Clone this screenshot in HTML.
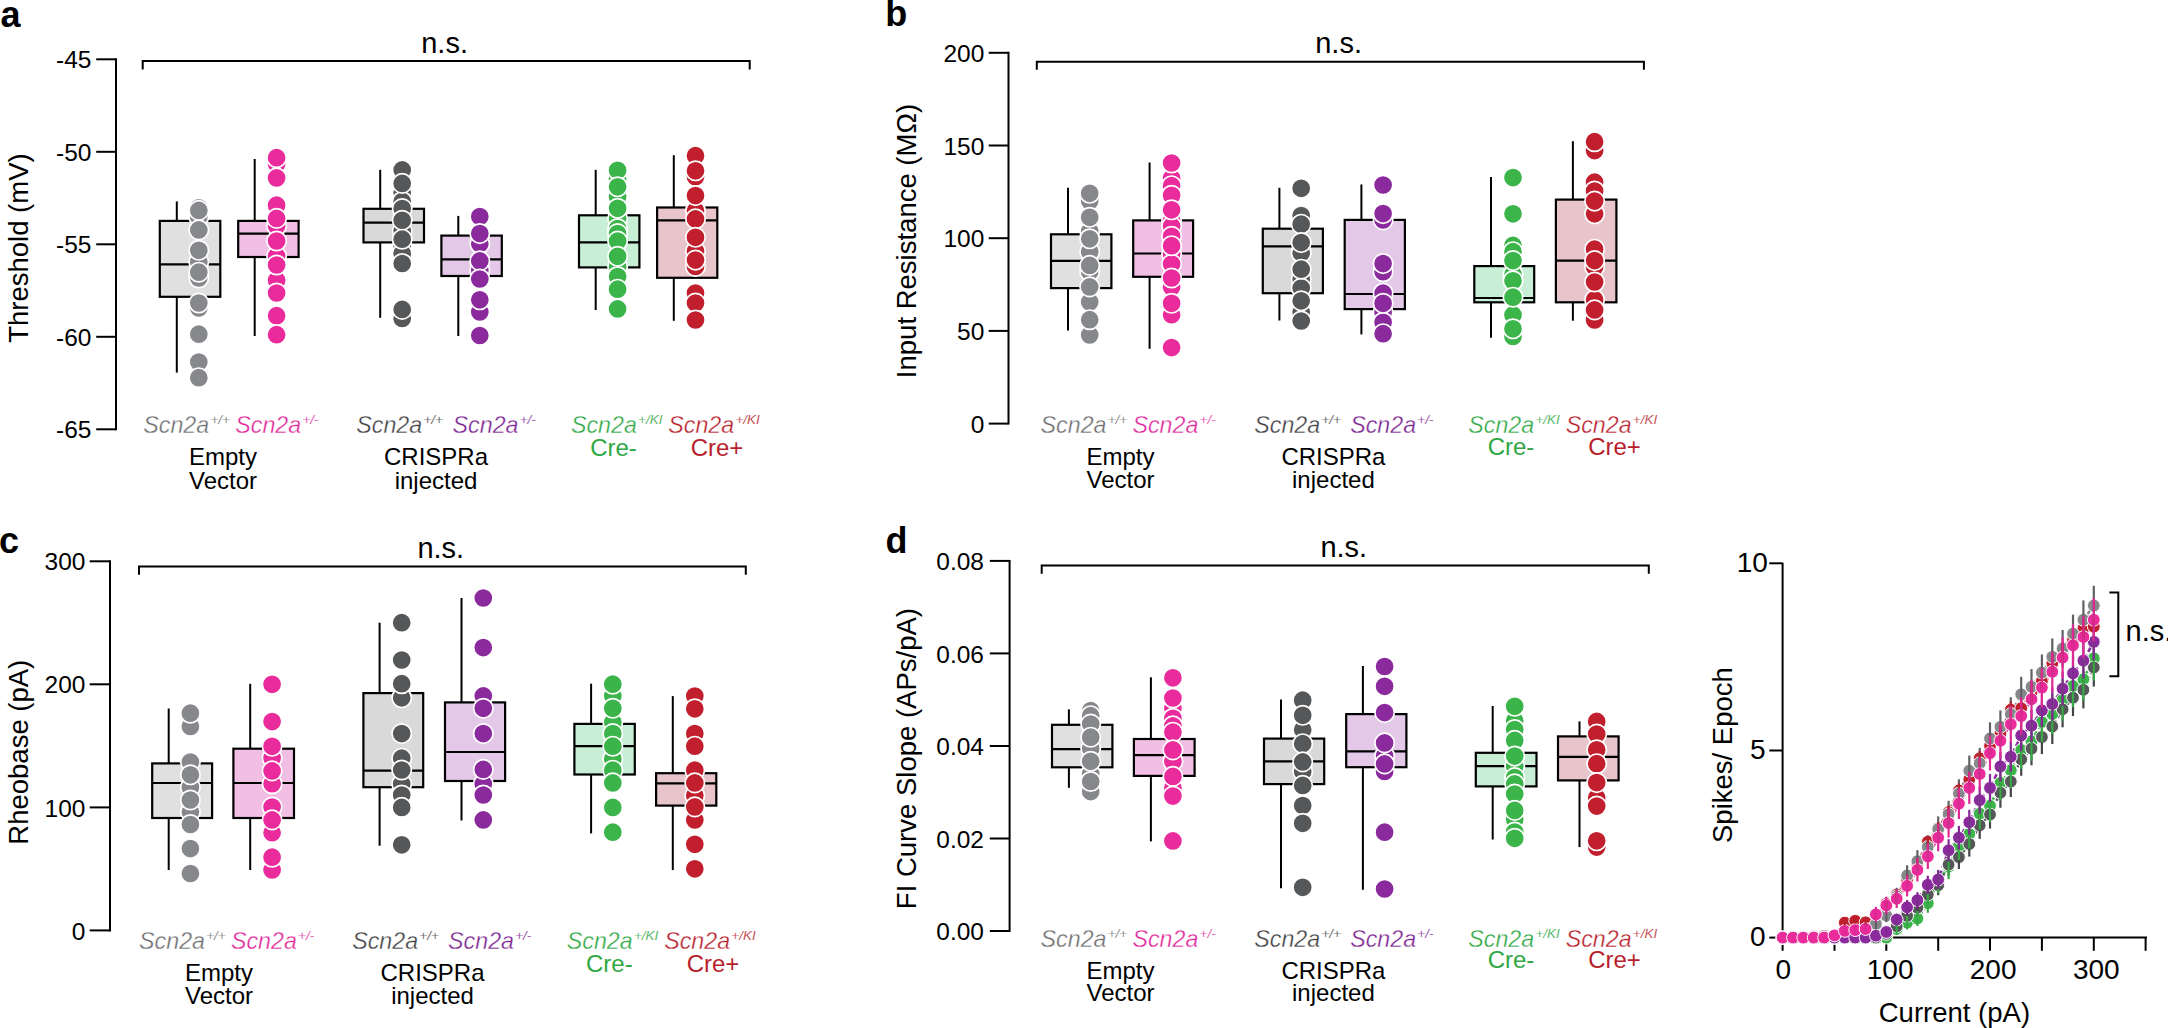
<!DOCTYPE html>
<html><head><meta charset="utf-8"><title>Figure</title>
<style>
html,body{margin:0;padding:0;background:#fff;}
svg{display:block;}
text{font-family:"Liberation Sans", Arial, Helvetica, sans-serif;}
</style></head>
<body>
<svg width="2168" height="1028" viewBox="0 0 2168 1028">
<rect width="2168" height="1028" fill="#fff"/>
<text x="0.6" y="26.7" font-size="36" text-anchor="start" font-weight="bold" font-style="normal" fill="#000" >a</text>
<line x1="116.0" y1="58.3" x2="116.0" y2="430.3" stroke="#000" stroke-width="2"/>
<line x1="96.2" y1="59.3" x2="116.0" y2="59.3" stroke="#000" stroke-width="2"/>
<text x="91.5" y="68.4" font-size="24.5" text-anchor="end" font-weight="normal" font-style="normal" fill="#000" >-45</text>
<line x1="96.2" y1="151.8" x2="116.0" y2="151.8" stroke="#000" stroke-width="2"/>
<text x="91.5" y="160.9" font-size="24.5" text-anchor="end" font-weight="normal" font-style="normal" fill="#000" >-50</text>
<line x1="96.2" y1="244.3" x2="116.0" y2="244.3" stroke="#000" stroke-width="2"/>
<text x="91.5" y="253.4" font-size="24.5" text-anchor="end" font-weight="normal" font-style="normal" fill="#000" >-55</text>
<line x1="96.2" y1="336.8" x2="116.0" y2="336.8" stroke="#000" stroke-width="2"/>
<text x="91.5" y="345.9" font-size="24.5" text-anchor="end" font-weight="normal" font-style="normal" fill="#000" >-60</text>
<line x1="96.2" y1="429.3" x2="116.0" y2="429.3" stroke="#000" stroke-width="2"/>
<text x="91.5" y="438.4" font-size="24.5" text-anchor="end" font-weight="normal" font-style="normal" fill="#000" >-65</text>
<text x="0" y="0" font-size="27.5" text-anchor="middle" transform="translate(28.2,248.1) rotate(-90)">Threshold (mV)</text>
<path d="M142.7,69.4 V60.9 H749.7 V69.4" fill="none" stroke="#000" stroke-width="2"/>
<text x="444.6" y="52.8" font-size="29" text-anchor="middle" font-weight="normal" font-style="normal" fill="#000" >n.s.</text>
<line x1="176.8" y1="201.4" x2="176.8" y2="220.9" stroke="#000" stroke-width="2"/>
<line x1="176.8" y1="296.8" x2="176.8" y2="372.6" stroke="#000" stroke-width="2"/>
<rect x="159.8" y="220.9" width="60.5" height="75.9" fill="#e0e0e0" stroke="#000" stroke-width="2.2"/>
<line x1="159.8" y1="264.4" x2="220.3" y2="264.4" stroke="#000" stroke-width="2.2"/>
<circle cx="198.8" cy="207.8" r="9.7" fill="#87888b" stroke="#fff" stroke-width="1.7"/>
<circle cx="198.8" cy="217.0" r="9.7" fill="#87888b" stroke="#fff" stroke-width="1.7"/>
<circle cx="198.8" cy="262.0" r="9.7" fill="#87888b" stroke="#fff" stroke-width="1.7"/>
<circle cx="198.8" cy="278.0" r="9.7" fill="#87888b" stroke="#fff" stroke-width="1.7"/>
<circle cx="198.8" cy="308.0" r="9.7" fill="#87888b" stroke="#fff" stroke-width="1.7"/>
<circle cx="198.8" cy="362.0" r="9.7" fill="#87888b" stroke="#fff" stroke-width="1.7"/>
<circle cx="198.8" cy="210.4" r="9.7" fill="#87888b" stroke="#fff" stroke-width="1.7"/>
<circle cx="198.8" cy="229.9" r="9.7" fill="#87888b" stroke="#fff" stroke-width="1.7"/>
<circle cx="198.8" cy="250.3" r="9.7" fill="#87888b" stroke="#fff" stroke-width="1.7"/>
<circle cx="198.8" cy="272.2" r="9.7" fill="#87888b" stroke="#fff" stroke-width="1.7"/>
<circle cx="198.8" cy="303.0" r="9.7" fill="#87888b" stroke="#fff" stroke-width="1.7"/>
<circle cx="198.8" cy="334.2" r="9.7" fill="#87888b" stroke="#fff" stroke-width="1.7"/>
<circle cx="198.8" cy="377.7" r="9.7" fill="#87888b" stroke="#fff" stroke-width="1.7"/>
<line x1="254.7" y1="159.0" x2="254.7" y2="220.9" stroke="#000" stroke-width="2"/>
<line x1="254.7" y1="257.0" x2="254.7" y2="336.0" stroke="#000" stroke-width="2"/>
<rect x="238.2" y="220.9" width="60.4" height="36.1" fill="#f2bfe4" stroke="#000" stroke-width="2.2"/>
<line x1="238.2" y1="233.6" x2="298.6" y2="233.6" stroke="#000" stroke-width="2.2"/>
<circle cx="276.6" cy="164.0" r="9.7" fill="#ea2b9c" stroke="#fff" stroke-width="1.7"/>
<circle cx="276.6" cy="205.2" r="9.7" fill="#ea2b9c" stroke="#fff" stroke-width="1.7"/>
<circle cx="276.6" cy="226.0" r="9.7" fill="#ea2b9c" stroke="#fff" stroke-width="1.7"/>
<circle cx="276.6" cy="256.3" r="9.7" fill="#ea2b9c" stroke="#fff" stroke-width="1.7"/>
<circle cx="276.6" cy="280.3" r="9.7" fill="#ea2b9c" stroke="#fff" stroke-width="1.7"/>
<circle cx="276.6" cy="315.7" r="9.7" fill="#ea2b9c" stroke="#fff" stroke-width="1.7"/>
<circle cx="276.6" cy="157.7" r="9.7" fill="#ea2b9c" stroke="#fff" stroke-width="1.7"/>
<circle cx="276.6" cy="177.9" r="9.7" fill="#ea2b9c" stroke="#fff" stroke-width="1.7"/>
<circle cx="276.6" cy="218.4" r="9.7" fill="#ea2b9c" stroke="#fff" stroke-width="1.7"/>
<circle cx="276.6" cy="241.0" r="9.7" fill="#ea2b9c" stroke="#fff" stroke-width="1.7"/>
<circle cx="276.6" cy="265.0" r="9.7" fill="#ea2b9c" stroke="#fff" stroke-width="1.7"/>
<circle cx="276.6" cy="293.0" r="9.7" fill="#ea2b9c" stroke="#fff" stroke-width="1.7"/>
<circle cx="276.6" cy="334.7" r="9.7" fill="#ea2b9c" stroke="#fff" stroke-width="1.7"/>
<line x1="380.2" y1="169.8" x2="380.2" y2="208.8" stroke="#000" stroke-width="2"/>
<line x1="380.2" y1="242.4" x2="380.2" y2="317.8" stroke="#000" stroke-width="2"/>
<rect x="363.5" y="208.8" width="60.5" height="33.6" fill="#d9d9d9" stroke="#000" stroke-width="2.2"/>
<line x1="363.5" y1="222.7" x2="424.0" y2="222.7" stroke="#000" stroke-width="2.2"/>
<circle cx="402.2" cy="192.4" r="9.7" fill="#555759" stroke="#fff" stroke-width="1.7"/>
<circle cx="402.2" cy="201.4" r="9.7" fill="#555759" stroke="#fff" stroke-width="1.7"/>
<circle cx="402.2" cy="208.6" r="9.7" fill="#555759" stroke="#fff" stroke-width="1.7"/>
<circle cx="402.2" cy="231.1" r="9.7" fill="#555759" stroke="#fff" stroke-width="1.7"/>
<circle cx="402.2" cy="246.4" r="9.7" fill="#555759" stroke="#fff" stroke-width="1.7"/>
<circle cx="402.2" cy="253.6" r="9.7" fill="#555759" stroke="#fff" stroke-width="1.7"/>
<circle cx="402.2" cy="318.4" r="9.7" fill="#555759" stroke="#fff" stroke-width="1.7"/>
<circle cx="402.2" cy="169.9" r="9.7" fill="#555759" stroke="#fff" stroke-width="1.7"/>
<circle cx="402.2" cy="183.4" r="9.7" fill="#555759" stroke="#fff" stroke-width="1.7"/>
<circle cx="402.2" cy="220.3" r="9.7" fill="#555759" stroke="#fff" stroke-width="1.7"/>
<circle cx="402.2" cy="239.2" r="9.7" fill="#555759" stroke="#fff" stroke-width="1.7"/>
<circle cx="402.2" cy="263.5" r="9.7" fill="#555759" stroke="#fff" stroke-width="1.7"/>
<circle cx="402.2" cy="309.4" r="9.7" fill="#555759" stroke="#fff" stroke-width="1.7"/>
<line x1="458.3" y1="215.9" x2="458.3" y2="235.6" stroke="#000" stroke-width="2"/>
<line x1="458.3" y1="276.0" x2="458.3" y2="336.0" stroke="#000" stroke-width="2"/>
<rect x="441.4" y="235.6" width="60.4" height="40.4" fill="#e3c8e8" stroke="#000" stroke-width="2.2"/>
<line x1="441.4" y1="259.3" x2="501.8" y2="259.3" stroke="#000" stroke-width="2.2"/>
<circle cx="479.8" cy="243.7" r="9.7" fill="#8b2a9d" stroke="#fff" stroke-width="1.7"/>
<circle cx="479.8" cy="270.2" r="9.7" fill="#8b2a9d" stroke="#fff" stroke-width="1.7"/>
<circle cx="479.8" cy="312.0" r="9.7" fill="#8b2a9d" stroke="#fff" stroke-width="1.7"/>
<circle cx="479.8" cy="216.6" r="9.7" fill="#8b2a9d" stroke="#fff" stroke-width="1.7"/>
<circle cx="479.8" cy="233.6" r="9.7" fill="#8b2a9d" stroke="#fff" stroke-width="1.7"/>
<circle cx="479.8" cy="260.9" r="9.7" fill="#8b2a9d" stroke="#fff" stroke-width="1.7"/>
<circle cx="479.8" cy="279.0" r="9.7" fill="#8b2a9d" stroke="#fff" stroke-width="1.7"/>
<circle cx="479.8" cy="299.8" r="9.7" fill="#8b2a9d" stroke="#fff" stroke-width="1.7"/>
<circle cx="479.8" cy="335.5" r="9.7" fill="#8b2a9d" stroke="#fff" stroke-width="1.7"/>
<line x1="595.7" y1="169.8" x2="595.7" y2="215.3" stroke="#000" stroke-width="2"/>
<line x1="595.7" y1="267.4" x2="595.7" y2="310.0" stroke="#000" stroke-width="2"/>
<rect x="579.0" y="215.3" width="60.4" height="52.1" fill="#c8efd6" stroke="#000" stroke-width="2.2"/>
<line x1="579.0" y1="242.4" x2="639.4" y2="242.4" stroke="#000" stroke-width="2.2"/>
<circle cx="617.6" cy="179.2" r="9.7" fill="#3bb44a" stroke="#fff" stroke-width="1.7"/>
<circle cx="617.6" cy="196.9" r="9.7" fill="#3bb44a" stroke="#fff" stroke-width="1.7"/>
<circle cx="617.6" cy="218.4" r="9.7" fill="#3bb44a" stroke="#fff" stroke-width="1.7"/>
<circle cx="617.6" cy="228.5" r="9.7" fill="#3bb44a" stroke="#fff" stroke-width="1.7"/>
<circle cx="617.6" cy="233.6" r="9.7" fill="#3bb44a" stroke="#fff" stroke-width="1.7"/>
<circle cx="617.6" cy="266.4" r="9.7" fill="#3bb44a" stroke="#fff" stroke-width="1.7"/>
<circle cx="617.6" cy="276.5" r="9.7" fill="#3bb44a" stroke="#fff" stroke-width="1.7"/>
<circle cx="617.6" cy="170.3" r="9.7" fill="#3bb44a" stroke="#fff" stroke-width="1.7"/>
<circle cx="617.6" cy="186.8" r="9.7" fill="#3bb44a" stroke="#fff" stroke-width="1.7"/>
<circle cx="617.6" cy="208.3" r="9.7" fill="#3bb44a" stroke="#fff" stroke-width="1.7"/>
<circle cx="617.6" cy="241.1" r="9.7" fill="#3bb44a" stroke="#fff" stroke-width="1.7"/>
<circle cx="617.6" cy="256.3" r="9.7" fill="#3bb44a" stroke="#fff" stroke-width="1.7"/>
<circle cx="617.6" cy="289.2" r="9.7" fill="#3bb44a" stroke="#fff" stroke-width="1.7"/>
<circle cx="617.6" cy="308.9" r="9.7" fill="#3bb44a" stroke="#fff" stroke-width="1.7"/>
<line x1="673.8" y1="155.2" x2="673.8" y2="207.5" stroke="#000" stroke-width="2"/>
<line x1="673.8" y1="277.8" x2="673.8" y2="320.8" stroke="#000" stroke-width="2"/>
<rect x="657.1" y="207.5" width="60.2" height="70.3" fill="#e8c5cb" stroke="#000" stroke-width="2.2"/>
<line x1="657.1" y1="220.4" x2="717.3" y2="220.4" stroke="#000" stroke-width="2.2"/>
<circle cx="695.5" cy="176.7" r="9.7" fill="#c21f2e" stroke="#fff" stroke-width="1.7"/>
<circle cx="695.5" cy="210.8" r="9.7" fill="#c21f2e" stroke="#fff" stroke-width="1.7"/>
<circle cx="695.5" cy="251.3" r="9.7" fill="#c21f2e" stroke="#fff" stroke-width="1.7"/>
<circle cx="695.5" cy="266.4" r="9.7" fill="#c21f2e" stroke="#fff" stroke-width="1.7"/>
<circle cx="695.5" cy="293.0" r="9.7" fill="#c21f2e" stroke="#fff" stroke-width="1.7"/>
<circle cx="695.5" cy="155.7" r="9.7" fill="#c21f2e" stroke="#fff" stroke-width="1.7"/>
<circle cx="695.5" cy="170.8" r="9.7" fill="#c21f2e" stroke="#fff" stroke-width="1.7"/>
<circle cx="695.5" cy="195.6" r="9.7" fill="#c21f2e" stroke="#fff" stroke-width="1.7"/>
<circle cx="695.5" cy="218.9" r="9.7" fill="#c21f2e" stroke="#fff" stroke-width="1.7"/>
<circle cx="695.5" cy="237.3" r="9.7" fill="#c21f2e" stroke="#fff" stroke-width="1.7"/>
<circle cx="695.5" cy="260.1" r="9.7" fill="#c21f2e" stroke="#fff" stroke-width="1.7"/>
<circle cx="695.5" cy="303.1" r="9.7" fill="#c21f2e" stroke="#fff" stroke-width="1.7"/>
<circle cx="695.5" cy="320.0" r="9.7" fill="#c21f2e" stroke="#fff" stroke-width="1.7"/>
<text x="143.3" y="433.1" font-size="24" font-style="italic" fill="#6e6e70" stroke="#fff" stroke-width="0.35" textLength="65.9" lengthAdjust="spacingAndGlyphs">Scn2a</text>
<text x="210.4" y="424.3" font-size="13.5" font-style="italic" fill="#6e6e70" stroke="#fff" stroke-width="0.2">+/+</text>
<text x="235.3" y="433.1" font-size="24" font-style="italic" fill="#e0279a" stroke="#fff" stroke-width="0.35" textLength="65.9" lengthAdjust="spacingAndGlyphs">Scn2a</text>
<text x="302.4" y="424.3" font-size="13.5" font-style="italic" fill="#e0279a" stroke="#fff" stroke-width="0.2">+/-</text>
<text x="356.3" y="433.1" font-size="24" font-style="italic" fill="#3f4042" stroke="#fff" stroke-width="0.35" textLength="65.9" lengthAdjust="spacingAndGlyphs">Scn2a</text>
<text x="423.4" y="424.3" font-size="13.5" font-style="italic" fill="#3f4042" stroke="#fff" stroke-width="0.2">+/+</text>
<text x="452.6" y="433.1" font-size="24" font-style="italic" fill="#7b2390" stroke="#fff" stroke-width="0.35" textLength="65.9" lengthAdjust="spacingAndGlyphs">Scn2a</text>
<text x="519.7" y="424.3" font-size="13.5" font-style="italic" fill="#7b2390" stroke="#fff" stroke-width="0.2">+/-</text>
<text x="571.0" y="433.1" font-size="24" font-style="italic" fill="#2fa844" stroke="#fff" stroke-width="0.35" textLength="65.9" lengthAdjust="spacingAndGlyphs">Scn2a</text>
<text x="638.1" y="424.3" font-size="13.5" font-style="italic" fill="#2fa844" stroke="#fff" stroke-width="0.2">+/KI</text>
<text x="668.3" y="433.1" font-size="24" font-style="italic" fill="#b81e2c" stroke="#fff" stroke-width="0.35" textLength="65.9" lengthAdjust="spacingAndGlyphs">Scn2a</text>
<text x="735.4" y="424.3" font-size="13.5" font-style="italic" fill="#b81e2c" stroke="#fff" stroke-width="0.2">+/KI</text>
<text x="223.0" y="464.7" font-size="24" text-anchor="middle" font-weight="normal" font-style="normal" fill="#000" >Empty</text>
<text x="223.0" y="488.7" font-size="24" text-anchor="middle" font-weight="normal" font-style="normal" fill="#000" >Vector</text>
<text x="436.0" y="464.7" font-size="24" text-anchor="middle" font-weight="normal" font-style="normal" fill="#000" >CRISPRa</text>
<text x="436.0" y="488.7" font-size="24" text-anchor="middle" font-weight="normal" font-style="normal" fill="#000" >injected</text>
<text x="613.5" y="456.0" font-size="24" text-anchor="middle" font-weight="normal" font-style="normal" fill="#2fa844" >Cre-</text>
<text x="717.0" y="456.0" font-size="24" text-anchor="middle" font-weight="normal" font-style="normal" fill="#b81e2c" >Cre+</text>
<text x="885.3" y="26.2" font-size="36" text-anchor="start" font-weight="bold" font-style="normal" fill="#000" >b</text>
<line x1="1008.5" y1="51.8" x2="1008.5" y2="424.6" stroke="#000" stroke-width="2"/>
<line x1="988.7" y1="52.8" x2="1008.5" y2="52.8" stroke="#000" stroke-width="2"/>
<text x="984.3" y="61.9" font-size="24.5" text-anchor="end" font-weight="normal" font-style="normal" fill="#000" >200</text>
<line x1="988.7" y1="145.5" x2="1008.5" y2="145.5" stroke="#000" stroke-width="2"/>
<text x="984.3" y="154.6" font-size="24.5" text-anchor="end" font-weight="normal" font-style="normal" fill="#000" >150</text>
<line x1="988.7" y1="238.2" x2="1008.5" y2="238.2" stroke="#000" stroke-width="2"/>
<text x="984.3" y="247.3" font-size="24.5" text-anchor="end" font-weight="normal" font-style="normal" fill="#000" >100</text>
<line x1="988.7" y1="330.9" x2="1008.5" y2="330.9" stroke="#000" stroke-width="2"/>
<text x="984.3" y="340.0" font-size="24.5" text-anchor="end" font-weight="normal" font-style="normal" fill="#000" >50</text>
<line x1="988.7" y1="423.6" x2="1008.5" y2="423.6" stroke="#000" stroke-width="2"/>
<text x="984.3" y="432.7" font-size="24.5" text-anchor="end" font-weight="normal" font-style="normal" fill="#000" >0</text>
<text x="0" y="0" font-size="27.5" text-anchor="middle" transform="translate(916.2,241.0) rotate(-90)">Input Resistance (MΩ)</text>
<path d="M1036.8,69.7 V61.8 H1643.9 V69.7" fill="none" stroke="#000" stroke-width="2"/>
<text x="1338.6" y="53.4" font-size="29" text-anchor="middle" font-weight="normal" font-style="normal" fill="#000" >n.s.</text>
<line x1="1068.0" y1="187.8" x2="1068.0" y2="234.3" stroke="#000" stroke-width="2"/>
<line x1="1068.0" y1="288.1" x2="1068.0" y2="330.4" stroke="#000" stroke-width="2"/>
<rect x="1051.0" y="234.3" width="60.4" height="53.8" fill="#e0e0e0" stroke="#000" stroke-width="2.2"/>
<line x1="1051.0" y1="260.8" x2="1111.4" y2="260.8" stroke="#000" stroke-width="2.2"/>
<circle cx="1089.7" cy="200.9" r="9.7" fill="#87888b" stroke="#fff" stroke-width="1.7"/>
<circle cx="1089.7" cy="231.3" r="9.7" fill="#87888b" stroke="#fff" stroke-width="1.7"/>
<circle cx="1089.7" cy="251.5" r="9.7" fill="#87888b" stroke="#fff" stroke-width="1.7"/>
<circle cx="1089.7" cy="271.7" r="9.7" fill="#87888b" stroke="#fff" stroke-width="1.7"/>
<circle cx="1089.7" cy="302.0" r="9.7" fill="#87888b" stroke="#fff" stroke-width="1.7"/>
<circle cx="1089.7" cy="334.9" r="9.7" fill="#87888b" stroke="#fff" stroke-width="1.7"/>
<circle cx="1089.7" cy="193.3" r="9.7" fill="#87888b" stroke="#fff" stroke-width="1.7"/>
<circle cx="1089.7" cy="217.3" r="9.7" fill="#87888b" stroke="#fff" stroke-width="1.7"/>
<circle cx="1089.7" cy="238.8" r="9.7" fill="#87888b" stroke="#fff" stroke-width="1.7"/>
<circle cx="1089.7" cy="265.4" r="9.7" fill="#87888b" stroke="#fff" stroke-width="1.7"/>
<circle cx="1089.7" cy="286.9" r="9.7" fill="#87888b" stroke="#fff" stroke-width="1.7"/>
<circle cx="1089.7" cy="319.7" r="9.7" fill="#87888b" stroke="#fff" stroke-width="1.7"/>
<line x1="1149.6" y1="162.5" x2="1149.6" y2="220.4" stroke="#000" stroke-width="2"/>
<line x1="1149.6" y1="276.8" x2="1149.6" y2="348.8" stroke="#000" stroke-width="2"/>
<rect x="1133.2" y="220.4" width="59.9" height="56.4" fill="#f2bfe4" stroke="#000" stroke-width="2.2"/>
<line x1="1133.2" y1="253.5" x2="1193.1" y2="253.5" stroke="#000" stroke-width="2.2"/>
<circle cx="1171.6" cy="178.2" r="9.7" fill="#ea2b9c" stroke="#fff" stroke-width="1.7"/>
<circle cx="1171.6" cy="185.7" r="9.7" fill="#ea2b9c" stroke="#fff" stroke-width="1.7"/>
<circle cx="1171.6" cy="221.1" r="9.7" fill="#ea2b9c" stroke="#fff" stroke-width="1.7"/>
<circle cx="1171.6" cy="226.2" r="9.7" fill="#ea2b9c" stroke="#fff" stroke-width="1.7"/>
<circle cx="1171.6" cy="236.3" r="9.7" fill="#ea2b9c" stroke="#fff" stroke-width="1.7"/>
<circle cx="1171.6" cy="254.0" r="9.7" fill="#ea2b9c" stroke="#fff" stroke-width="1.7"/>
<circle cx="1171.6" cy="264.1" r="9.7" fill="#ea2b9c" stroke="#fff" stroke-width="1.7"/>
<circle cx="1171.6" cy="286.9" r="9.7" fill="#ea2b9c" stroke="#fff" stroke-width="1.7"/>
<circle cx="1171.6" cy="314.7" r="9.7" fill="#ea2b9c" stroke="#fff" stroke-width="1.7"/>
<circle cx="1171.6" cy="163.0" r="9.7" fill="#ea2b9c" stroke="#fff" stroke-width="1.7"/>
<circle cx="1171.6" cy="195.3" r="9.7" fill="#ea2b9c" stroke="#fff" stroke-width="1.7"/>
<circle cx="1171.6" cy="209.8" r="9.7" fill="#ea2b9c" stroke="#fff" stroke-width="1.7"/>
<circle cx="1171.6" cy="245.7" r="9.7" fill="#ea2b9c" stroke="#fff" stroke-width="1.7"/>
<circle cx="1171.6" cy="278.0" r="9.7" fill="#ea2b9c" stroke="#fff" stroke-width="1.7"/>
<circle cx="1171.6" cy="303.3" r="9.7" fill="#ea2b9c" stroke="#fff" stroke-width="1.7"/>
<circle cx="1171.6" cy="347.6" r="9.7" fill="#ea2b9c" stroke="#fff" stroke-width="1.7"/>
<line x1="1279.4" y1="187.8" x2="1279.4" y2="228.7" stroke="#000" stroke-width="2"/>
<line x1="1279.4" y1="293.2" x2="1279.4" y2="320.5" stroke="#000" stroke-width="2"/>
<rect x="1262.8" y="228.7" width="60.1" height="64.5" fill="#d9d9d9" stroke="#000" stroke-width="2.2"/>
<line x1="1262.8" y1="246.4" x2="1322.9" y2="246.4" stroke="#000" stroke-width="2.2"/>
<circle cx="1301.2" cy="215.6" r="9.7" fill="#555759" stroke="#fff" stroke-width="1.7"/>
<circle cx="1301.2" cy="252.7" r="9.7" fill="#555759" stroke="#fff" stroke-width="1.7"/>
<circle cx="1301.2" cy="279.3" r="9.7" fill="#555759" stroke="#fff" stroke-width="1.7"/>
<circle cx="1301.2" cy="288.1" r="9.7" fill="#555759" stroke="#fff" stroke-width="1.7"/>
<circle cx="1301.2" cy="312.2" r="9.7" fill="#555759" stroke="#fff" stroke-width="1.7"/>
<circle cx="1301.2" cy="321.0" r="9.7" fill="#555759" stroke="#fff" stroke-width="1.7"/>
<circle cx="1301.2" cy="188.3" r="9.7" fill="#555759" stroke="#fff" stroke-width="1.7"/>
<circle cx="1301.2" cy="224.2" r="9.7" fill="#555759" stroke="#fff" stroke-width="1.7"/>
<circle cx="1301.2" cy="242.6" r="9.7" fill="#555759" stroke="#fff" stroke-width="1.7"/>
<circle cx="1301.2" cy="269.2" r="9.7" fill="#555759" stroke="#fff" stroke-width="1.7"/>
<circle cx="1301.2" cy="300.8" r="9.7" fill="#555759" stroke="#fff" stroke-width="1.7"/>
<line x1="1361.4" y1="184.5" x2="1361.4" y2="219.9" stroke="#000" stroke-width="2"/>
<line x1="1361.4" y1="309.1" x2="1361.4" y2="334.4" stroke="#000" stroke-width="2"/>
<rect x="1344.7" y="219.9" width="60.2" height="89.2" fill="#e3c8e8" stroke="#000" stroke-width="2.2"/>
<line x1="1344.7" y1="294.0" x2="1404.9" y2="294.0" stroke="#000" stroke-width="2.2"/>
<circle cx="1383.1" cy="219.9" r="9.7" fill="#8b2a9d" stroke="#fff" stroke-width="1.7"/>
<circle cx="1383.1" cy="271.7" r="9.7" fill="#8b2a9d" stroke="#fff" stroke-width="1.7"/>
<circle cx="1383.1" cy="293.2" r="9.7" fill="#8b2a9d" stroke="#fff" stroke-width="1.7"/>
<circle cx="1383.1" cy="312.2" r="9.7" fill="#8b2a9d" stroke="#fff" stroke-width="1.7"/>
<circle cx="1383.1" cy="322.3" r="9.7" fill="#8b2a9d" stroke="#fff" stroke-width="1.7"/>
<circle cx="1383.1" cy="185.0" r="9.7" fill="#8b2a9d" stroke="#fff" stroke-width="1.7"/>
<circle cx="1383.1" cy="213.6" r="9.7" fill="#8b2a9d" stroke="#fff" stroke-width="1.7"/>
<circle cx="1383.1" cy="263.6" r="9.7" fill="#8b2a9d" stroke="#fff" stroke-width="1.7"/>
<circle cx="1383.1" cy="303.3" r="9.7" fill="#8b2a9d" stroke="#fff" stroke-width="1.7"/>
<circle cx="1383.1" cy="333.7" r="9.7" fill="#8b2a9d" stroke="#fff" stroke-width="1.7"/>
<line x1="1491.0" y1="177.1" x2="1491.0" y2="266.1" stroke="#000" stroke-width="2"/>
<line x1="1491.0" y1="302.3" x2="1491.0" y2="337.7" stroke="#000" stroke-width="2"/>
<rect x="1474.3" y="266.1" width="59.9" height="36.2" fill="#c8efd6" stroke="#000" stroke-width="2.2"/>
<line x1="1474.3" y1="298.0" x2="1534.2" y2="298.0" stroke="#000" stroke-width="2.2"/>
<circle cx="1513.0" cy="245.4" r="9.7" fill="#3bb44a" stroke="#fff" stroke-width="1.7"/>
<circle cx="1513.0" cy="251.7" r="9.7" fill="#3bb44a" stroke="#fff" stroke-width="1.7"/>
<circle cx="1513.0" cy="274.5" r="9.7" fill="#3bb44a" stroke="#fff" stroke-width="1.7"/>
<circle cx="1513.0" cy="314.9" r="9.7" fill="#3bb44a" stroke="#fff" stroke-width="1.7"/>
<circle cx="1513.0" cy="336.4" r="9.7" fill="#3bb44a" stroke="#fff" stroke-width="1.7"/>
<circle cx="1513.0" cy="177.6" r="9.7" fill="#3bb44a" stroke="#fff" stroke-width="1.7"/>
<circle cx="1513.0" cy="213.8" r="9.7" fill="#3bb44a" stroke="#fff" stroke-width="1.7"/>
<circle cx="1513.0" cy="260.6" r="9.7" fill="#3bb44a" stroke="#fff" stroke-width="1.7"/>
<circle cx="1513.0" cy="280.8" r="9.7" fill="#3bb44a" stroke="#fff" stroke-width="1.7"/>
<circle cx="1513.0" cy="297.2" r="9.7" fill="#3bb44a" stroke="#fff" stroke-width="1.7"/>
<circle cx="1513.0" cy="328.8" r="9.7" fill="#3bb44a" stroke="#fff" stroke-width="1.7"/>
<line x1="1572.9" y1="141.2" x2="1572.9" y2="199.6" stroke="#000" stroke-width="2"/>
<line x1="1572.9" y1="302.3" x2="1572.9" y2="320.7" stroke="#000" stroke-width="2"/>
<rect x="1555.9" y="199.6" width="60.5" height="102.7" fill="#e8c5cb" stroke="#000" stroke-width="2.2"/>
<line x1="1555.9" y1="260.6" x2="1616.4" y2="260.6" stroke="#000" stroke-width="2.2"/>
<circle cx="1594.6" cy="150.6" r="9.7" fill="#c21f2e" stroke="#fff" stroke-width="1.7"/>
<circle cx="1594.6" cy="182.2" r="9.7" fill="#c21f2e" stroke="#fff" stroke-width="1.7"/>
<circle cx="1594.6" cy="191.0" r="9.7" fill="#c21f2e" stroke="#fff" stroke-width="1.7"/>
<circle cx="1594.6" cy="213.8" r="9.7" fill="#c21f2e" stroke="#fff" stroke-width="1.7"/>
<circle cx="1594.6" cy="249.2" r="9.7" fill="#c21f2e" stroke="#fff" stroke-width="1.7"/>
<circle cx="1594.6" cy="266.9" r="9.7" fill="#c21f2e" stroke="#fff" stroke-width="1.7"/>
<circle cx="1594.6" cy="299.7" r="9.7" fill="#c21f2e" stroke="#fff" stroke-width="1.7"/>
<circle cx="1594.6" cy="320.0" r="9.7" fill="#c21f2e" stroke="#fff" stroke-width="1.7"/>
<circle cx="1594.6" cy="141.7" r="9.7" fill="#c21f2e" stroke="#fff" stroke-width="1.7"/>
<circle cx="1594.6" cy="201.1" r="9.7" fill="#c21f2e" stroke="#fff" stroke-width="1.7"/>
<circle cx="1594.6" cy="260.6" r="9.7" fill="#c21f2e" stroke="#fff" stroke-width="1.7"/>
<circle cx="1594.6" cy="282.0" r="9.7" fill="#c21f2e" stroke="#fff" stroke-width="1.7"/>
<circle cx="1594.6" cy="309.9" r="9.7" fill="#c21f2e" stroke="#fff" stroke-width="1.7"/>
<text x="1040.6" y="432.8" font-size="24" font-style="italic" fill="#6e6e70" stroke="#fff" stroke-width="0.35" textLength="65.9" lengthAdjust="spacingAndGlyphs">Scn2a</text>
<text x="1107.7" y="424.0" font-size="13.5" font-style="italic" fill="#6e6e70" stroke="#fff" stroke-width="0.2">+/+</text>
<text x="1132.5" y="432.8" font-size="24" font-style="italic" fill="#e0279a" stroke="#fff" stroke-width="0.35" textLength="65.9" lengthAdjust="spacingAndGlyphs">Scn2a</text>
<text x="1199.6" y="424.0" font-size="13.5" font-style="italic" fill="#e0279a" stroke="#fff" stroke-width="0.2">+/-</text>
<text x="1254.3" y="432.8" font-size="24" font-style="italic" fill="#3f4042" stroke="#fff" stroke-width="0.35" textLength="65.9" lengthAdjust="spacingAndGlyphs">Scn2a</text>
<text x="1321.4" y="424.0" font-size="13.5" font-style="italic" fill="#3f4042" stroke="#fff" stroke-width="0.2">+/+</text>
<text x="1350.2" y="432.8" font-size="24" font-style="italic" fill="#7b2390" stroke="#fff" stroke-width="0.35" textLength="65.9" lengthAdjust="spacingAndGlyphs">Scn2a</text>
<text x="1417.3" y="424.0" font-size="13.5" font-style="italic" fill="#7b2390" stroke="#fff" stroke-width="0.2">+/-</text>
<text x="1468.3" y="432.8" font-size="24" font-style="italic" fill="#2fa844" stroke="#fff" stroke-width="0.35" textLength="65.9" lengthAdjust="spacingAndGlyphs">Scn2a</text>
<text x="1535.4" y="424.0" font-size="13.5" font-style="italic" fill="#2fa844" stroke="#fff" stroke-width="0.2">+/KI</text>
<text x="1565.7" y="432.8" font-size="24" font-style="italic" fill="#b81e2c" stroke="#fff" stroke-width="0.35" textLength="65.9" lengthAdjust="spacingAndGlyphs">Scn2a</text>
<text x="1632.8" y="424.0" font-size="13.5" font-style="italic" fill="#b81e2c" stroke="#fff" stroke-width="0.2">+/KI</text>
<text x="1120.5" y="464.5" font-size="24" text-anchor="middle" font-weight="normal" font-style="normal" fill="#000" >Empty</text>
<text x="1120.5" y="488.3" font-size="24" text-anchor="middle" font-weight="normal" font-style="normal" fill="#000" >Vector</text>
<text x="1333.4" y="464.5" font-size="24" text-anchor="middle" font-weight="normal" font-style="normal" fill="#000" >CRISPRa</text>
<text x="1333.4" y="488.3" font-size="24" text-anchor="middle" font-weight="normal" font-style="normal" fill="#000" >injected</text>
<text x="1511.0" y="455.4" font-size="24" text-anchor="middle" font-weight="normal" font-style="normal" fill="#2fa844" >Cre-</text>
<text x="1614.5" y="455.4" font-size="24" text-anchor="middle" font-weight="normal" font-style="normal" fill="#b81e2c" >Cre+</text>
<text x="-0.9" y="552.9" font-size="36" text-anchor="start" font-weight="bold" font-style="normal" fill="#000" >c</text>
<line x1="110.0" y1="560.3" x2="110.0" y2="931.4" stroke="#000" stroke-width="2"/>
<line x1="89.7" y1="561.3" x2="110.0" y2="561.3" stroke="#000" stroke-width="2"/>
<text x="85.5" y="570.4" font-size="24.5" text-anchor="end" font-weight="normal" font-style="normal" fill="#000" >300</text>
<line x1="89.7" y1="684.3" x2="110.0" y2="684.3" stroke="#000" stroke-width="2"/>
<text x="85.5" y="693.4" font-size="24.5" text-anchor="end" font-weight="normal" font-style="normal" fill="#000" >200</text>
<line x1="89.7" y1="807.4" x2="110.0" y2="807.4" stroke="#000" stroke-width="2"/>
<text x="85.5" y="816.5" font-size="24.5" text-anchor="end" font-weight="normal" font-style="normal" fill="#000" >100</text>
<line x1="89.7" y1="930.4" x2="110.0" y2="930.4" stroke="#000" stroke-width="2"/>
<text x="85.5" y="939.5" font-size="24.5" text-anchor="end" font-weight="normal" font-style="normal" fill="#000" >0</text>
<text x="0" y="0" font-size="27.5" text-anchor="middle" transform="translate(28.0,752.2) rotate(-90)">Rheobase (pA)</text>
<path d="M139.0,574.7 V566.6 H745.8 V574.7" fill="none" stroke="#000" stroke-width="2"/>
<text x="440.8" y="558.4" font-size="29" text-anchor="middle" font-weight="normal" font-style="normal" fill="#000" >n.s.</text>
<line x1="168.7" y1="708.5" x2="168.7" y2="763.4" stroke="#000" stroke-width="2"/>
<line x1="168.7" y1="818.0" x2="168.7" y2="870.0" stroke="#000" stroke-width="2"/>
<rect x="152.2" y="763.4" width="59.9" height="54.6" fill="#e0e0e0" stroke="#000" stroke-width="2.2"/>
<line x1="152.2" y1="783.0" x2="212.1" y2="783.0" stroke="#000" stroke-width="2.2"/>
<circle cx="190.4" cy="726.5" r="9.7" fill="#87888b" stroke="#fff" stroke-width="1.7"/>
<circle cx="190.4" cy="762.0" r="9.7" fill="#87888b" stroke="#fff" stroke-width="1.7"/>
<circle cx="190.4" cy="787.2" r="9.7" fill="#87888b" stroke="#fff" stroke-width="1.7"/>
<circle cx="190.4" cy="811.7" r="9.7" fill="#87888b" stroke="#fff" stroke-width="1.7"/>
<circle cx="190.4" cy="713.2" r="9.7" fill="#87888b" stroke="#fff" stroke-width="1.7"/>
<circle cx="190.4" cy="774.8" r="9.7" fill="#87888b" stroke="#fff" stroke-width="1.7"/>
<circle cx="190.4" cy="800.0" r="9.7" fill="#87888b" stroke="#fff" stroke-width="1.7"/>
<circle cx="190.4" cy="824.5" r="9.7" fill="#87888b" stroke="#fff" stroke-width="1.7"/>
<circle cx="190.4" cy="848.6" r="9.7" fill="#87888b" stroke="#fff" stroke-width="1.7"/>
<circle cx="190.4" cy="873.5" r="9.7" fill="#87888b" stroke="#fff" stroke-width="1.7"/>
<line x1="250.2" y1="683.8" x2="250.2" y2="748.7" stroke="#000" stroke-width="2"/>
<line x1="250.2" y1="818.0" x2="250.2" y2="870.0" stroke="#000" stroke-width="2"/>
<rect x="233.4" y="748.7" width="60.6" height="69.3" fill="#f2bfe4" stroke="#000" stroke-width="2.2"/>
<line x1="233.4" y1="783.0" x2="294.0" y2="783.0" stroke="#000" stroke-width="2.2"/>
<circle cx="272.1" cy="758.0" r="9.7" fill="#ea2b9c" stroke="#fff" stroke-width="1.7"/>
<circle cx="272.1" cy="783.7" r="9.7" fill="#ea2b9c" stroke="#fff" stroke-width="1.7"/>
<circle cx="272.1" cy="807.0" r="9.7" fill="#ea2b9c" stroke="#fff" stroke-width="1.7"/>
<circle cx="272.1" cy="832.7" r="9.7" fill="#ea2b9c" stroke="#fff" stroke-width="1.7"/>
<circle cx="272.1" cy="870.0" r="9.7" fill="#ea2b9c" stroke="#fff" stroke-width="1.7"/>
<circle cx="272.1" cy="684.3" r="9.7" fill="#ea2b9c" stroke="#fff" stroke-width="1.7"/>
<circle cx="272.1" cy="721.6" r="9.7" fill="#ea2b9c" stroke="#fff" stroke-width="1.7"/>
<circle cx="272.1" cy="746.3" r="9.7" fill="#ea2b9c" stroke="#fff" stroke-width="1.7"/>
<circle cx="272.1" cy="770.9" r="9.7" fill="#ea2b9c" stroke="#fff" stroke-width="1.7"/>
<circle cx="272.1" cy="819.9" r="9.7" fill="#ea2b9c" stroke="#fff" stroke-width="1.7"/>
<circle cx="272.1" cy="857.2" r="9.7" fill="#ea2b9c" stroke="#fff" stroke-width="1.7"/>
<line x1="379.6" y1="622.7" x2="379.6" y2="693.1" stroke="#000" stroke-width="2"/>
<line x1="379.6" y1="787.2" x2="379.6" y2="845.7" stroke="#000" stroke-width="2"/>
<rect x="363.4" y="693.1" width="59.8" height="94.1" fill="#d9d9d9" stroke="#000" stroke-width="2.2"/>
<line x1="363.4" y1="770.7" x2="423.2" y2="770.7" stroke="#000" stroke-width="2.2"/>
<circle cx="401.7" cy="697.8" r="9.7" fill="#555759" stroke="#fff" stroke-width="1.7"/>
<circle cx="401.7" cy="758.2" r="9.7" fill="#555759" stroke="#fff" stroke-width="1.7"/>
<circle cx="401.7" cy="784.0" r="9.7" fill="#555759" stroke="#fff" stroke-width="1.7"/>
<circle cx="401.7" cy="795.0" r="9.7" fill="#555759" stroke="#fff" stroke-width="1.7"/>
<circle cx="401.7" cy="622.7" r="9.7" fill="#555759" stroke="#fff" stroke-width="1.7"/>
<circle cx="401.7" cy="660.0" r="9.7" fill="#555759" stroke="#fff" stroke-width="1.7"/>
<circle cx="401.7" cy="683.7" r="9.7" fill="#555759" stroke="#fff" stroke-width="1.7"/>
<circle cx="401.7" cy="733.6" r="9.7" fill="#555759" stroke="#fff" stroke-width="1.7"/>
<circle cx="401.7" cy="770.0" r="9.7" fill="#555759" stroke="#fff" stroke-width="1.7"/>
<circle cx="401.7" cy="807.4" r="9.7" fill="#555759" stroke="#fff" stroke-width="1.7"/>
<circle cx="401.7" cy="844.8" r="9.7" fill="#555759" stroke="#fff" stroke-width="1.7"/>
<line x1="461.5" y1="598.0" x2="461.5" y2="702.4" stroke="#000" stroke-width="2"/>
<line x1="461.5" y1="781.0" x2="461.5" y2="820.5" stroke="#000" stroke-width="2"/>
<rect x="445.0" y="702.4" width="60.1" height="78.6" fill="#e3c8e8" stroke="#000" stroke-width="2.2"/>
<line x1="445.0" y1="752.0" x2="505.1" y2="752.0" stroke="#000" stroke-width="2.2"/>
<circle cx="483.3" cy="695.9" r="9.7" fill="#8b2a9d" stroke="#fff" stroke-width="1.7"/>
<circle cx="483.3" cy="784.0" r="9.7" fill="#8b2a9d" stroke="#fff" stroke-width="1.7"/>
<circle cx="483.3" cy="795.0" r="9.7" fill="#8b2a9d" stroke="#fff" stroke-width="1.7"/>
<circle cx="483.3" cy="598.0" r="9.7" fill="#8b2a9d" stroke="#fff" stroke-width="1.7"/>
<circle cx="483.3" cy="647.6" r="9.7" fill="#8b2a9d" stroke="#fff" stroke-width="1.7"/>
<circle cx="483.3" cy="708.3" r="9.7" fill="#8b2a9d" stroke="#fff" stroke-width="1.7"/>
<circle cx="483.3" cy="733.6" r="9.7" fill="#8b2a9d" stroke="#fff" stroke-width="1.7"/>
<circle cx="483.3" cy="769.4" r="9.7" fill="#8b2a9d" stroke="#fff" stroke-width="1.7"/>
<circle cx="483.3" cy="819.9" r="9.7" fill="#8b2a9d" stroke="#fff" stroke-width="1.7"/>
<line x1="591.1" y1="683.7" x2="591.1" y2="723.9" stroke="#000" stroke-width="2"/>
<line x1="591.1" y1="774.5" x2="591.1" y2="833.4" stroke="#000" stroke-width="2"/>
<rect x="574.4" y="723.9" width="60.4" height="50.6" fill="#c8efd6" stroke="#000" stroke-width="2.2"/>
<line x1="574.4" y1="746.2" x2="634.8" y2="746.2" stroke="#000" stroke-width="2.2"/>
<circle cx="612.8" cy="696.1" r="9.7" fill="#3bb44a" stroke="#fff" stroke-width="1.7"/>
<circle cx="612.8" cy="722.2" r="9.7" fill="#3bb44a" stroke="#fff" stroke-width="1.7"/>
<circle cx="612.8" cy="733.6" r="9.7" fill="#3bb44a" stroke="#fff" stroke-width="1.7"/>
<circle cx="612.8" cy="758.8" r="9.7" fill="#3bb44a" stroke="#fff" stroke-width="1.7"/>
<circle cx="612.8" cy="770.2" r="9.7" fill="#3bb44a" stroke="#fff" stroke-width="1.7"/>
<circle cx="612.8" cy="684.2" r="9.7" fill="#3bb44a" stroke="#fff" stroke-width="1.7"/>
<circle cx="612.8" cy="708.3" r="9.7" fill="#3bb44a" stroke="#fff" stroke-width="1.7"/>
<circle cx="612.8" cy="746.2" r="9.7" fill="#3bb44a" stroke="#fff" stroke-width="1.7"/>
<circle cx="612.8" cy="782.9" r="9.7" fill="#3bb44a" stroke="#fff" stroke-width="1.7"/>
<circle cx="612.8" cy="807.4" r="9.7" fill="#3bb44a" stroke="#fff" stroke-width="1.7"/>
<circle cx="612.8" cy="832.2" r="9.7" fill="#3bb44a" stroke="#fff" stroke-width="1.7"/>
<line x1="672.8" y1="696.1" x2="672.8" y2="773.2" stroke="#000" stroke-width="2"/>
<line x1="672.8" y1="805.6" x2="672.8" y2="870.1" stroke="#000" stroke-width="2"/>
<rect x="656.1" y="773.2" width="60.2" height="32.4" fill="#e8c5cb" stroke="#000" stroke-width="2.2"/>
<line x1="656.1" y1="783.4" x2="716.3" y2="783.4" stroke="#000" stroke-width="2.2"/>
<circle cx="694.8" cy="696.1" r="9.7" fill="#c21f2e" stroke="#fff" stroke-width="1.7"/>
<circle cx="694.8" cy="733.6" r="9.7" fill="#c21f2e" stroke="#fff" stroke-width="1.7"/>
<circle cx="694.8" cy="770.2" r="9.7" fill="#c21f2e" stroke="#fff" stroke-width="1.7"/>
<circle cx="694.8" cy="795.5" r="9.7" fill="#c21f2e" stroke="#fff" stroke-width="1.7"/>
<circle cx="694.8" cy="820.0" r="9.7" fill="#c21f2e" stroke="#fff" stroke-width="1.7"/>
<circle cx="694.8" cy="708.8" r="9.7" fill="#c21f2e" stroke="#fff" stroke-width="1.7"/>
<circle cx="694.8" cy="746.2" r="9.7" fill="#c21f2e" stroke="#fff" stroke-width="1.7"/>
<circle cx="694.8" cy="782.9" r="9.7" fill="#c21f2e" stroke="#fff" stroke-width="1.7"/>
<circle cx="694.8" cy="806.9" r="9.7" fill="#c21f2e" stroke="#fff" stroke-width="1.7"/>
<circle cx="694.8" cy="844.3" r="9.7" fill="#c21f2e" stroke="#fff" stroke-width="1.7"/>
<circle cx="694.8" cy="868.8" r="9.7" fill="#c21f2e" stroke="#fff" stroke-width="1.7"/>
<text x="139.1" y="948.8" font-size="24" font-style="italic" fill="#6e6e70" stroke="#fff" stroke-width="0.35" textLength="65.9" lengthAdjust="spacingAndGlyphs">Scn2a</text>
<text x="206.2" y="940.0" font-size="13.5" font-style="italic" fill="#6e6e70" stroke="#fff" stroke-width="0.2">+/+</text>
<text x="231.0" y="948.8" font-size="24" font-style="italic" fill="#e0279a" stroke="#fff" stroke-width="0.35" textLength="65.9" lengthAdjust="spacingAndGlyphs">Scn2a</text>
<text x="298.1" y="940.0" font-size="13.5" font-style="italic" fill="#e0279a" stroke="#fff" stroke-width="0.2">+/-</text>
<text x="352.2" y="948.8" font-size="24" font-style="italic" fill="#3f4042" stroke="#fff" stroke-width="0.35" textLength="65.9" lengthAdjust="spacingAndGlyphs">Scn2a</text>
<text x="419.3" y="940.0" font-size="13.5" font-style="italic" fill="#3f4042" stroke="#fff" stroke-width="0.2">+/+</text>
<text x="448.1" y="948.8" font-size="24" font-style="italic" fill="#7b2390" stroke="#fff" stroke-width="0.35" textLength="65.9" lengthAdjust="spacingAndGlyphs">Scn2a</text>
<text x="515.2" y="940.0" font-size="13.5" font-style="italic" fill="#7b2390" stroke="#fff" stroke-width="0.2">+/-</text>
<text x="566.8" y="948.8" font-size="24" font-style="italic" fill="#2fa844" stroke="#fff" stroke-width="0.35" textLength="65.9" lengthAdjust="spacingAndGlyphs">Scn2a</text>
<text x="633.9" y="940.0" font-size="13.5" font-style="italic" fill="#2fa844" stroke="#fff" stroke-width="0.2">+/KI</text>
<text x="664.2" y="948.8" font-size="24" font-style="italic" fill="#b81e2c" stroke="#fff" stroke-width="0.35" textLength="65.9" lengthAdjust="spacingAndGlyphs">Scn2a</text>
<text x="731.3" y="940.0" font-size="13.5" font-style="italic" fill="#b81e2c" stroke="#fff" stroke-width="0.2">+/KI</text>
<text x="219.0" y="980.6" font-size="24" text-anchor="middle" font-weight="normal" font-style="normal" fill="#000" >Empty</text>
<text x="219.0" y="1004.4" font-size="24" text-anchor="middle" font-weight="normal" font-style="normal" fill="#000" >Vector</text>
<text x="432.5" y="980.6" font-size="24" text-anchor="middle" font-weight="normal" font-style="normal" fill="#000" >CRISPRa</text>
<text x="432.5" y="1004.4" font-size="24" text-anchor="middle" font-weight="normal" font-style="normal" fill="#000" >injected</text>
<text x="609.3" y="972.4" font-size="24" text-anchor="middle" font-weight="normal" font-style="normal" fill="#2fa844" >Cre-</text>
<text x="713.0" y="972.4" font-size="24" text-anchor="middle" font-weight="normal" font-style="normal" fill="#b81e2c" >Cre+</text>
<text x="885.4" y="552.5" font-size="36" text-anchor="start" font-weight="bold" font-style="normal" fill="#000" >d</text>
<line x1="1009.6" y1="559.9" x2="1009.6" y2="932.0" stroke="#000" stroke-width="2"/>
<line x1="989.8" y1="560.9" x2="1009.6" y2="560.9" stroke="#000" stroke-width="2"/>
<text x="984.0" y="570.0" font-size="24.5" text-anchor="end" font-weight="normal" font-style="normal" fill="#000" >0.08</text>
<line x1="989.8" y1="653.4" x2="1009.6" y2="653.4" stroke="#000" stroke-width="2"/>
<text x="984.0" y="662.5" font-size="24.5" text-anchor="end" font-weight="normal" font-style="normal" fill="#000" >0.06</text>
<line x1="989.8" y1="746.0" x2="1009.6" y2="746.0" stroke="#000" stroke-width="2"/>
<text x="984.0" y="755.1" font-size="24.5" text-anchor="end" font-weight="normal" font-style="normal" fill="#000" >0.04</text>
<line x1="989.8" y1="838.5" x2="1009.6" y2="838.5" stroke="#000" stroke-width="2"/>
<text x="984.0" y="847.6" font-size="24.5" text-anchor="end" font-weight="normal" font-style="normal" fill="#000" >0.02</text>
<line x1="989.8" y1="931.0" x2="1009.6" y2="931.0" stroke="#000" stroke-width="2"/>
<text x="984.0" y="940.1" font-size="24.5" text-anchor="end" font-weight="normal" font-style="normal" fill="#000" >0.00</text>
<text x="0" y="0" font-size="27.5" text-anchor="middle" transform="translate(916.2,758.6) rotate(-90)">FI Curve Slope (APs/pA)</text>
<path d="M1041.7,573.8 V565.4 H1648.8 V573.8" fill="none" stroke="#000" stroke-width="2"/>
<text x="1343.8" y="557.2" font-size="29" text-anchor="middle" font-weight="normal" font-style="normal" fill="#000" >n.s.</text>
<line x1="1068.9" y1="709.4" x2="1068.9" y2="724.8" stroke="#000" stroke-width="2"/>
<line x1="1068.9" y1="767.3" x2="1068.9" y2="787.8" stroke="#000" stroke-width="2"/>
<rect x="1052.0" y="724.8" width="60.4" height="42.5" fill="#e0e0e0" stroke="#000" stroke-width="2.2"/>
<line x1="1052.0" y1="749.1" x2="1112.4" y2="749.1" stroke="#000" stroke-width="2.2"/>
<circle cx="1090.7" cy="710.7" r="9.7" fill="#87888b" stroke="#fff" stroke-width="1.7"/>
<circle cx="1090.7" cy="715.7" r="9.7" fill="#87888b" stroke="#fff" stroke-width="1.7"/>
<circle cx="1090.7" cy="748.6" r="9.7" fill="#87888b" stroke="#fff" stroke-width="1.7"/>
<circle cx="1090.7" cy="773.9" r="9.7" fill="#87888b" stroke="#fff" stroke-width="1.7"/>
<circle cx="1090.7" cy="791.6" r="9.7" fill="#87888b" stroke="#fff" stroke-width="1.7"/>
<circle cx="1090.7" cy="724.1" r="9.7" fill="#87888b" stroke="#fff" stroke-width="1.7"/>
<circle cx="1090.7" cy="737.2" r="9.7" fill="#87888b" stroke="#fff" stroke-width="1.7"/>
<circle cx="1090.7" cy="761.3" r="9.7" fill="#87888b" stroke="#fff" stroke-width="1.7"/>
<circle cx="1090.7" cy="781.5" r="9.7" fill="#87888b" stroke="#fff" stroke-width="1.7"/>
<line x1="1150.9" y1="677.3" x2="1150.9" y2="739.0" stroke="#000" stroke-width="2"/>
<line x1="1150.9" y1="775.9" x2="1150.9" y2="841.4" stroke="#000" stroke-width="2"/>
<rect x="1133.9" y="739.0" width="60.7" height="36.9" fill="#f2bfe4" stroke="#000" stroke-width="2.2"/>
<line x1="1133.9" y1="755.2" x2="1194.6" y2="755.2" stroke="#000" stroke-width="2.2"/>
<circle cx="1172.9" cy="708.2" r="9.7" fill="#ea2b9c" stroke="#fff" stroke-width="1.7"/>
<circle cx="1172.9" cy="718.3" r="9.7" fill="#ea2b9c" stroke="#fff" stroke-width="1.7"/>
<circle cx="1172.9" cy="725.9" r="9.7" fill="#ea2b9c" stroke="#fff" stroke-width="1.7"/>
<circle cx="1172.9" cy="761.3" r="9.7" fill="#ea2b9c" stroke="#fff" stroke-width="1.7"/>
<circle cx="1172.9" cy="787.8" r="9.7" fill="#ea2b9c" stroke="#fff" stroke-width="1.7"/>
<circle cx="1172.9" cy="677.8" r="9.7" fill="#ea2b9c" stroke="#fff" stroke-width="1.7"/>
<circle cx="1172.9" cy="698.0" r="9.7" fill="#ea2b9c" stroke="#fff" stroke-width="1.7"/>
<circle cx="1172.9" cy="732.2" r="9.7" fill="#ea2b9c" stroke="#fff" stroke-width="1.7"/>
<circle cx="1172.9" cy="749.9" r="9.7" fill="#ea2b9c" stroke="#fff" stroke-width="1.7"/>
<circle cx="1172.9" cy="776.4" r="9.7" fill="#ea2b9c" stroke="#fff" stroke-width="1.7"/>
<circle cx="1172.9" cy="796.1" r="9.7" fill="#ea2b9c" stroke="#fff" stroke-width="1.7"/>
<circle cx="1172.9" cy="840.9" r="9.7" fill="#ea2b9c" stroke="#fff" stroke-width="1.7"/>
<line x1="1281.0" y1="699.4" x2="1281.0" y2="738.6" stroke="#000" stroke-width="2"/>
<line x1="1281.0" y1="784.1" x2="1281.0" y2="888.3" stroke="#000" stroke-width="2"/>
<rect x="1264.0" y="738.6" width="60.2" height="45.5" fill="#d9d9d9" stroke="#000" stroke-width="2.2"/>
<line x1="1264.0" y1="761.4" x2="1324.2" y2="761.4" stroke="#000" stroke-width="2.2"/>
<circle cx="1302.7" cy="729.8" r="9.7" fill="#555759" stroke="#fff" stroke-width="1.7"/>
<circle cx="1302.7" cy="771.5" r="9.7" fill="#555759" stroke="#fff" stroke-width="1.7"/>
<circle cx="1302.7" cy="743.7" r="9.7" fill="#555759" stroke="#fff" stroke-width="1.7"/>
<circle cx="1302.7" cy="700.2" r="9.7" fill="#555759" stroke="#fff" stroke-width="1.7"/>
<circle cx="1302.7" cy="715.3" r="9.7" fill="#555759" stroke="#fff" stroke-width="1.7"/>
<circle cx="1302.7" cy="761.9" r="9.7" fill="#555759" stroke="#fff" stroke-width="1.7"/>
<circle cx="1302.7" cy="785.4" r="9.7" fill="#555759" stroke="#fff" stroke-width="1.7"/>
<circle cx="1302.7" cy="805.6" r="9.7" fill="#555759" stroke="#fff" stroke-width="1.7"/>
<circle cx="1302.7" cy="823.3" r="9.7" fill="#555759" stroke="#fff" stroke-width="1.7"/>
<circle cx="1302.7" cy="887.3" r="9.7" fill="#555759" stroke="#fff" stroke-width="1.7"/>
<line x1="1362.9" y1="666.0" x2="1362.9" y2="714.1" stroke="#000" stroke-width="2"/>
<line x1="1362.9" y1="767.2" x2="1362.9" y2="889.8" stroke="#000" stroke-width="2"/>
<rect x="1346.2" y="714.1" width="60.2" height="53.1" fill="#e3c8e8" stroke="#000" stroke-width="2.2"/>
<line x1="1346.2" y1="751.3" x2="1406.4" y2="751.3" stroke="#000" stroke-width="2.2"/>
<circle cx="1384.6" cy="755.8" r="9.7" fill="#8b2a9d" stroke="#fff" stroke-width="1.7"/>
<circle cx="1384.6" cy="771.5" r="9.7" fill="#8b2a9d" stroke="#fff" stroke-width="1.7"/>
<circle cx="1384.6" cy="666.5" r="9.7" fill="#8b2a9d" stroke="#fff" stroke-width="1.7"/>
<circle cx="1384.6" cy="686.3" r="9.7" fill="#8b2a9d" stroke="#fff" stroke-width="1.7"/>
<circle cx="1384.6" cy="712.6" r="9.7" fill="#8b2a9d" stroke="#fff" stroke-width="1.7"/>
<circle cx="1384.6" cy="742.9" r="9.7" fill="#8b2a9d" stroke="#fff" stroke-width="1.7"/>
<circle cx="1384.6" cy="763.9" r="9.7" fill="#8b2a9d" stroke="#fff" stroke-width="1.7"/>
<circle cx="1384.6" cy="832.2" r="9.7" fill="#8b2a9d" stroke="#fff" stroke-width="1.7"/>
<circle cx="1384.6" cy="889.0" r="9.7" fill="#8b2a9d" stroke="#fff" stroke-width="1.7"/>
<line x1="1492.7" y1="706.0" x2="1492.7" y2="752.8" stroke="#000" stroke-width="2"/>
<line x1="1492.7" y1="786.4" x2="1492.7" y2="839.5" stroke="#000" stroke-width="2"/>
<rect x="1475.8" y="752.8" width="60.7" height="33.6" fill="#c8efd6" stroke="#000" stroke-width="2.2"/>
<line x1="1475.8" y1="766.2" x2="1536.5" y2="766.2" stroke="#000" stroke-width="2.2"/>
<circle cx="1514.7" cy="720.7" r="9.7" fill="#3bb44a" stroke="#fff" stroke-width="1.7"/>
<circle cx="1514.7" cy="729.5" r="9.7" fill="#3bb44a" stroke="#fff" stroke-width="1.7"/>
<circle cx="1514.7" cy="766.2" r="9.7" fill="#3bb44a" stroke="#fff" stroke-width="1.7"/>
<circle cx="1514.7" cy="777.6" r="9.7" fill="#3bb44a" stroke="#fff" stroke-width="1.7"/>
<circle cx="1514.7" cy="819.3" r="9.7" fill="#3bb44a" stroke="#fff" stroke-width="1.7"/>
<circle cx="1514.7" cy="832.0" r="9.7" fill="#3bb44a" stroke="#fff" stroke-width="1.7"/>
<circle cx="1514.7" cy="706.3" r="9.7" fill="#3bb44a" stroke="#fff" stroke-width="1.7"/>
<circle cx="1514.7" cy="740.4" r="9.7" fill="#3bb44a" stroke="#fff" stroke-width="1.7"/>
<circle cx="1514.7" cy="756.1" r="9.7" fill="#3bb44a" stroke="#fff" stroke-width="1.7"/>
<circle cx="1514.7" cy="783.9" r="9.7" fill="#3bb44a" stroke="#fff" stroke-width="1.7"/>
<circle cx="1514.7" cy="794.0" r="9.7" fill="#3bb44a" stroke="#fff" stroke-width="1.7"/>
<circle cx="1514.7" cy="810.4" r="9.7" fill="#3bb44a" stroke="#fff" stroke-width="1.7"/>
<circle cx="1514.7" cy="838.3" r="9.7" fill="#3bb44a" stroke="#fff" stroke-width="1.7"/>
<line x1="1579.5" y1="721.4" x2="1579.5" y2="736.4" stroke="#000" stroke-width="2"/>
<line x1="1579.5" y1="780.4" x2="1579.5" y2="847.1" stroke="#000" stroke-width="2"/>
<rect x="1558.0" y="736.4" width="60.6" height="44.0" fill="#e8c5cb" stroke="#000" stroke-width="2.2"/>
<line x1="1558.0" y1="756.8" x2="1618.6" y2="756.8" stroke="#000" stroke-width="2.2"/>
<circle cx="1596.7" cy="721.4" r="9.7" fill="#c21f2e" stroke="#fff" stroke-width="1.7"/>
<circle cx="1596.7" cy="797.8" r="9.7" fill="#c21f2e" stroke="#fff" stroke-width="1.7"/>
<circle cx="1596.7" cy="847.1" r="9.7" fill="#c21f2e" stroke="#fff" stroke-width="1.7"/>
<circle cx="1596.7" cy="734.1" r="9.7" fill="#c21f2e" stroke="#fff" stroke-width="1.7"/>
<circle cx="1596.7" cy="749.8" r="9.7" fill="#c21f2e" stroke="#fff" stroke-width="1.7"/>
<circle cx="1596.7" cy="763.7" r="9.7" fill="#c21f2e" stroke="#fff" stroke-width="1.7"/>
<circle cx="1596.7" cy="782.6" r="9.7" fill="#c21f2e" stroke="#fff" stroke-width="1.7"/>
<circle cx="1596.7" cy="806.1" r="9.7" fill="#c21f2e" stroke="#fff" stroke-width="1.7"/>
<circle cx="1596.7" cy="840.8" r="9.7" fill="#c21f2e" stroke="#fff" stroke-width="1.7"/>
<text x="1040.6" y="946.8" font-size="24" font-style="italic" fill="#6e6e70" stroke="#fff" stroke-width="0.35" textLength="65.9" lengthAdjust="spacingAndGlyphs">Scn2a</text>
<text x="1107.7" y="938.0" font-size="13.5" font-style="italic" fill="#6e6e70" stroke="#fff" stroke-width="0.2">+/+</text>
<text x="1132.5" y="946.8" font-size="24" font-style="italic" fill="#e0279a" stroke="#fff" stroke-width="0.35" textLength="65.9" lengthAdjust="spacingAndGlyphs">Scn2a</text>
<text x="1199.6" y="938.0" font-size="13.5" font-style="italic" fill="#e0279a" stroke="#fff" stroke-width="0.2">+/-</text>
<text x="1254.3" y="946.8" font-size="24" font-style="italic" fill="#3f4042" stroke="#fff" stroke-width="0.35" textLength="65.9" lengthAdjust="spacingAndGlyphs">Scn2a</text>
<text x="1321.4" y="938.0" font-size="13.5" font-style="italic" fill="#3f4042" stroke="#fff" stroke-width="0.2">+/+</text>
<text x="1350.2" y="946.8" font-size="24" font-style="italic" fill="#7b2390" stroke="#fff" stroke-width="0.35" textLength="65.9" lengthAdjust="spacingAndGlyphs">Scn2a</text>
<text x="1417.3" y="938.0" font-size="13.5" font-style="italic" fill="#7b2390" stroke="#fff" stroke-width="0.2">+/-</text>
<text x="1468.3" y="946.8" font-size="24" font-style="italic" fill="#2fa844" stroke="#fff" stroke-width="0.35" textLength="65.9" lengthAdjust="spacingAndGlyphs">Scn2a</text>
<text x="1535.4" y="938.0" font-size="13.5" font-style="italic" fill="#2fa844" stroke="#fff" stroke-width="0.2">+/KI</text>
<text x="1565.7" y="946.8" font-size="24" font-style="italic" fill="#b81e2c" stroke="#fff" stroke-width="0.35" textLength="65.9" lengthAdjust="spacingAndGlyphs">Scn2a</text>
<text x="1632.8" y="938.0" font-size="13.5" font-style="italic" fill="#b81e2c" stroke="#fff" stroke-width="0.2">+/KI</text>
<text x="1120.5" y="978.5" font-size="24" text-anchor="middle" font-weight="normal" font-style="normal" fill="#000" >Empty</text>
<text x="1120.5" y="1001.3" font-size="24" text-anchor="middle" font-weight="normal" font-style="normal" fill="#000" >Vector</text>
<text x="1333.4" y="978.5" font-size="24" text-anchor="middle" font-weight="normal" font-style="normal" fill="#000" >CRISPRa</text>
<text x="1333.4" y="1001.3" font-size="24" text-anchor="middle" font-weight="normal" font-style="normal" fill="#000" >injected</text>
<text x="1511.0" y="968.4" font-size="24" text-anchor="middle" font-weight="normal" font-style="normal" fill="#2fa844" >Cre-</text>
<text x="1614.5" y="968.4" font-size="24" text-anchor="middle" font-weight="normal" font-style="normal" fill="#b81e2c" >Cre+</text>
<line x1="1782.6" y1="562.8" x2="1782.6" y2="938.6" stroke="#000" stroke-width="2"/>
<line x1="1781.6" y1="937.6" x2="2147.0" y2="937.6" stroke="#000" stroke-width="2"/>
<line x1="1769.3" y1="937.6" x2="1782.6" y2="937.6" stroke="#000" stroke-width="2"/>
<text x="1765.6" y="946.2" font-size="28" text-anchor="end" font-weight="normal" font-style="normal" fill="#000" >0</text>
<line x1="1769.3" y1="750.5" x2="1782.6" y2="750.5" stroke="#000" stroke-width="2"/>
<text x="1765.6" y="759.1" font-size="28" text-anchor="end" font-weight="normal" font-style="normal" fill="#000" >5</text>
<line x1="1769.3" y1="563.3" x2="1782.6" y2="563.3" stroke="#000" stroke-width="2"/>
<text x="1767.8" y="571.9" font-size="28" text-anchor="end" font-weight="normal" font-style="normal" fill="#000" >10</text>
<line x1="1782.6" y1="937.6" x2="1782.6" y2="950.8" stroke="#000" stroke-width="2"/>
<line x1="1834.5" y1="937.6" x2="1834.5" y2="950.8" stroke="#000" stroke-width="2"/>
<line x1="1886.3" y1="937.6" x2="1886.3" y2="950.8" stroke="#000" stroke-width="2"/>
<line x1="1938.2" y1="937.6" x2="1938.2" y2="950.8" stroke="#000" stroke-width="2"/>
<line x1="1990.0" y1="937.6" x2="1990.0" y2="950.8" stroke="#000" stroke-width="2"/>
<line x1="2041.9" y1="937.6" x2="2041.9" y2="950.8" stroke="#000" stroke-width="2"/>
<line x1="2093.8" y1="937.6" x2="2093.8" y2="950.8" stroke="#000" stroke-width="2"/>
<line x1="2145.6" y1="937.6" x2="2145.6" y2="950.8" stroke="#000" stroke-width="2"/>
<text x="1783.3" y="978.6" font-size="28" text-anchor="middle" font-weight="normal" font-style="normal" fill="#000" >0</text>
<text x="1890.1" y="978.6" font-size="28" text-anchor="middle" font-weight="normal" font-style="normal" fill="#000" >100</text>
<text x="1993.1" y="978.6" font-size="28" text-anchor="middle" font-weight="normal" font-style="normal" fill="#000" >200</text>
<text x="2096.3" y="978.6" font-size="28" text-anchor="middle" font-weight="normal" font-style="normal" fill="#000" >300</text>
<text x="1954.4" y="1022.2" font-size="27.5" text-anchor="middle" font-weight="normal" font-style="normal" fill="#000" >Current (pA)</text>
<text x="0" y="0" font-size="27.5" text-anchor="middle" transform="translate(1731.8,755.1) rotate(-90)">Spikes/ Epoch</text>
<path d="M2109.4,592.4 H2118.3 V676.3 H2109.4" fill="none" stroke="#000" stroke-width="2"/>
<text x="2125.5" y="640.5" font-size="29" text-anchor="start" font-weight="normal" font-style="normal" fill="#000" >n.s.</text>
<path d="M1782.6,937.6 L1793.0,937.2 L1803.3,936.9 L1813.7,936.5 L1824.1,936.1 L1834.5,935.7 L1844.8,922.6 L1855.2,920.8 L1865.6,922.3 L1875.9,915.1 L1886.3,903.9 L1896.7,894.6 L1907.1,879.6 L1917.4,863.5 L1927.8,841.8 L1938.2,828.3 L1948.6,812.2 L1958.9,790.5 L1969.3,779.3 L1979.7,758.3 L1990.0,746.0 L2000.4,733.6 L2010.8,709.7 L2021.2,708.2 L2031.5,692.4 L2041.9,681.2 L2052.3,663.2 L2062.6,651.3 L2073.0,640.0 L2083.4,628.4 L2093.8,626.6" fill="none" stroke="#c21f2e" stroke-width="2.6" stroke-dasharray="5,3"/>
<path d="M1782.6,937.6 L1793.0,937.6 L1803.3,937.6 L1813.7,937.6 L1824.1,937.6 L1834.5,937.6 L1844.8,937.6 L1855.2,937.6 L1865.6,937.6 L1875.9,937.6 L1886.3,937.6 L1896.7,929.0 L1907.1,922.6 L1917.4,918.5 L1927.8,903.2 L1938.2,881.5 L1948.6,866.5 L1958.9,845.9 L1969.3,833.9 L1979.7,813.7 L1990.0,805.8 L2000.4,783.0 L2010.8,770.3 L2021.2,750.1 L2031.5,741.5 L2041.9,722.0 L2052.3,714.1 L2062.6,699.9 L2073.0,686.1 L2083.4,679.3 L2093.8,658.4" fill="none" stroke="#3bb44a" stroke-width="2.6" stroke-dasharray="5,3"/>
<path d="M1782.6,937.6 L1793.0,937.6 L1803.3,937.6 L1813.7,937.6 L1824.1,937.6 L1834.5,937.6 L1844.8,937.6 L1855.2,937.6 L1865.6,937.6 L1875.9,924.1 L1886.3,915.5 L1896.7,896.4 L1907.1,875.5 L1917.4,861.2 L1927.8,847.0 L1938.2,829.1 L1948.6,814.1 L1958.9,793.5 L1969.3,770.7 L1979.7,763.2 L1990.0,738.5 L2000.4,726.9 L2010.8,714.1 L2021.2,694.3 L2031.5,686.8 L2041.9,672.6 L2052.3,656.9 L2062.6,648.6 L2073.0,633.7 L2083.4,619.8 L2093.8,605.6" fill="none" stroke="#87888b" stroke-width="2.6" stroke-dasharray="5,3"/>
<path d="M1782.6,937.6 L1793.0,937.6 L1803.3,937.6 L1813.7,937.6 L1824.1,937.6 L1834.5,937.6 L1844.8,937.6 L1855.2,937.6 L1865.6,937.6 L1875.9,937.6 L1886.3,933.9 L1896.7,926.4 L1907.1,915.9 L1917.4,907.7 L1927.8,894.6 L1938.2,885.2 L1948.6,864.6 L1958.9,857.1 L1969.3,844.0 L1979.7,825.3 L1990.0,814.5 L2000.4,792.7 L2010.8,781.5 L2021.2,759.4 L2031.5,748.6 L2041.9,737.0 L2052.3,726.5 L2062.6,709.3 L2073.0,697.7 L2083.4,689.8 L2093.8,667.4" fill="none" stroke="#555759" stroke-width="2.6" stroke-dasharray="5,3"/>
<path d="M1782.6,937.6 L1793.0,937.6 L1803.3,937.6 L1813.7,937.6 L1824.1,937.6 L1834.5,937.6 L1844.8,937.6 L1855.2,937.6 L1865.6,937.6 L1875.9,935.7 L1886.3,932.0 L1896.7,919.6 L1907.1,907.3 L1917.4,900.2 L1927.8,884.8 L1938.2,879.6 L1948.6,850.4 L1958.9,837.7 L1969.3,822.3 L1979.7,800.2 L1990.0,787.9 L2000.4,766.5 L2010.8,756.8 L2021.2,735.5 L2031.5,725.7 L2041.9,710.4 L2052.3,704.0 L2062.6,688.7 L2073.0,673.3 L2083.4,660.6 L2093.8,641.9" fill="none" stroke="#8b2a9d" stroke-width="2.6" stroke-dasharray="5,3"/>
<path d="M1782.6,937.6 L1793.0,937.6 L1803.3,937.6 L1813.7,937.6 L1824.1,937.6 L1834.5,935.4 L1844.8,930.9 L1855.2,930.1 L1865.6,929.0 L1875.9,914.4 L1886.3,905.4 L1896.7,898.7 L1907.1,885.9 L1917.4,869.9 L1927.8,856.4 L1938.2,837.7 L1948.6,823.1 L1958.9,803.6 L1969.3,787.9 L1979.7,774.0 L1990.0,753.1 L2000.4,740.7 L2010.8,724.2 L2021.2,716.0 L2031.5,699.2 L2041.9,687.6 L2052.3,671.8 L2062.6,657.6 L2073.0,645.3 L2083.4,637.0 L2093.8,619.8" fill="none" stroke="#ea2b9c" stroke-width="2.6" stroke-dasharray="5,3"/>
<circle cx="1782.6" cy="937.6" r="6.4" fill="#c21f2e" stroke="#fff" stroke-width="1"/>
<circle cx="1793.0" cy="937.2" r="6.4" fill="#c21f2e" stroke="#fff" stroke-width="1"/>
<circle cx="1803.3" cy="936.9" r="6.4" fill="#c21f2e" stroke="#fff" stroke-width="1"/>
<circle cx="1813.7" cy="936.5" r="6.4" fill="#c21f2e" stroke="#fff" stroke-width="1"/>
<circle cx="1824.1" cy="936.1" r="6.4" fill="#c21f2e" stroke="#fff" stroke-width="1"/>
<circle cx="1834.5" cy="935.7" r="6.4" fill="#c21f2e" stroke="#fff" stroke-width="1"/>
<circle cx="1844.8" cy="922.6" r="6.4" fill="#c21f2e" stroke="#fff" stroke-width="1"/>
<circle cx="1855.2" cy="920.8" r="6.4" fill="#c21f2e" stroke="#fff" stroke-width="1"/>
<circle cx="1865.6" cy="922.3" r="6.4" fill="#c21f2e" stroke="#fff" stroke-width="1"/>
<circle cx="1875.9" cy="915.1" r="6.4" fill="#c21f2e" stroke="#fff" stroke-width="1"/>
<circle cx="1886.3" cy="903.9" r="6.4" fill="#c21f2e" stroke="#fff" stroke-width="1"/>
<circle cx="1896.7" cy="894.6" r="6.4" fill="#c21f2e" stroke="#fff" stroke-width="1"/>
<circle cx="1907.1" cy="879.6" r="6.4" fill="#c21f2e" stroke="#fff" stroke-width="1"/>
<circle cx="1917.4" cy="863.5" r="6.4" fill="#c21f2e" stroke="#fff" stroke-width="1"/>
<circle cx="1927.8" cy="841.8" r="6.4" fill="#c21f2e" stroke="#fff" stroke-width="1"/>
<circle cx="1938.2" cy="828.3" r="6.4" fill="#c21f2e" stroke="#fff" stroke-width="1"/>
<circle cx="1948.6" cy="812.2" r="6.4" fill="#c21f2e" stroke="#fff" stroke-width="1"/>
<circle cx="1958.9" cy="790.5" r="6.4" fill="#c21f2e" stroke="#fff" stroke-width="1"/>
<circle cx="1969.3" cy="779.3" r="6.4" fill="#c21f2e" stroke="#fff" stroke-width="1"/>
<circle cx="1979.7" cy="758.3" r="6.4" fill="#c21f2e" stroke="#fff" stroke-width="1"/>
<circle cx="1990.0" cy="746.0" r="6.4" fill="#c21f2e" stroke="#fff" stroke-width="1"/>
<circle cx="2000.4" cy="733.6" r="6.4" fill="#c21f2e" stroke="#fff" stroke-width="1"/>
<circle cx="2010.8" cy="709.7" r="6.4" fill="#c21f2e" stroke="#fff" stroke-width="1"/>
<circle cx="2021.2" cy="708.2" r="6.4" fill="#c21f2e" stroke="#fff" stroke-width="1"/>
<circle cx="2031.5" cy="692.4" r="6.4" fill="#c21f2e" stroke="#fff" stroke-width="1"/>
<circle cx="2041.9" cy="681.2" r="6.4" fill="#c21f2e" stroke="#fff" stroke-width="1"/>
<circle cx="2052.3" cy="663.2" r="6.4" fill="#c21f2e" stroke="#fff" stroke-width="1"/>
<circle cx="2062.6" cy="651.3" r="6.4" fill="#c21f2e" stroke="#fff" stroke-width="1"/>
<circle cx="2073.0" cy="640.0" r="6.4" fill="#c21f2e" stroke="#fff" stroke-width="1"/>
<circle cx="2083.4" cy="628.4" r="6.4" fill="#c21f2e" stroke="#fff" stroke-width="1"/>
<circle cx="2093.8" cy="626.6" r="6.4" fill="#c21f2e" stroke="#fff" stroke-width="1"/>
<circle cx="1782.6" cy="937.6" r="6.4" fill="#3bb44a" stroke="#fff" stroke-width="1"/>
<circle cx="1793.0" cy="937.6" r="6.4" fill="#3bb44a" stroke="#fff" stroke-width="1"/>
<circle cx="1803.3" cy="937.6" r="6.4" fill="#3bb44a" stroke="#fff" stroke-width="1"/>
<circle cx="1813.7" cy="937.6" r="6.4" fill="#3bb44a" stroke="#fff" stroke-width="1"/>
<circle cx="1824.1" cy="937.6" r="6.4" fill="#3bb44a" stroke="#fff" stroke-width="1"/>
<circle cx="1834.5" cy="937.6" r="6.4" fill="#3bb44a" stroke="#fff" stroke-width="1"/>
<circle cx="1844.8" cy="937.6" r="6.4" fill="#3bb44a" stroke="#fff" stroke-width="1"/>
<circle cx="1855.2" cy="937.6" r="6.4" fill="#3bb44a" stroke="#fff" stroke-width="1"/>
<circle cx="1865.6" cy="937.6" r="6.4" fill="#3bb44a" stroke="#fff" stroke-width="1"/>
<circle cx="1875.9" cy="937.6" r="6.4" fill="#3bb44a" stroke="#fff" stroke-width="1"/>
<circle cx="1886.3" cy="937.6" r="6.4" fill="#3bb44a" stroke="#fff" stroke-width="1"/>
<circle cx="1896.7" cy="929.0" r="6.4" fill="#3bb44a" stroke="#fff" stroke-width="1"/>
<circle cx="1907.1" cy="922.6" r="6.4" fill="#3bb44a" stroke="#fff" stroke-width="1"/>
<circle cx="1917.4" cy="918.5" r="6.4" fill="#3bb44a" stroke="#fff" stroke-width="1"/>
<circle cx="1927.8" cy="903.2" r="6.4" fill="#3bb44a" stroke="#fff" stroke-width="1"/>
<circle cx="1938.2" cy="881.5" r="6.4" fill="#3bb44a" stroke="#fff" stroke-width="1"/>
<circle cx="1948.6" cy="866.5" r="6.4" fill="#3bb44a" stroke="#fff" stroke-width="1"/>
<circle cx="1958.9" cy="845.9" r="6.4" fill="#3bb44a" stroke="#fff" stroke-width="1"/>
<circle cx="1969.3" cy="833.9" r="6.4" fill="#3bb44a" stroke="#fff" stroke-width="1"/>
<circle cx="1979.7" cy="813.7" r="6.4" fill="#3bb44a" stroke="#fff" stroke-width="1"/>
<circle cx="1990.0" cy="805.8" r="6.4" fill="#3bb44a" stroke="#fff" stroke-width="1"/>
<circle cx="2000.4" cy="783.0" r="6.4" fill="#3bb44a" stroke="#fff" stroke-width="1"/>
<circle cx="2010.8" cy="770.3" r="6.4" fill="#3bb44a" stroke="#fff" stroke-width="1"/>
<circle cx="2021.2" cy="750.1" r="6.4" fill="#3bb44a" stroke="#fff" stroke-width="1"/>
<circle cx="2031.5" cy="741.5" r="6.4" fill="#3bb44a" stroke="#fff" stroke-width="1"/>
<circle cx="2041.9" cy="722.0" r="6.4" fill="#3bb44a" stroke="#fff" stroke-width="1"/>
<circle cx="2052.3" cy="714.1" r="6.4" fill="#3bb44a" stroke="#fff" stroke-width="1"/>
<circle cx="2062.6" cy="699.9" r="6.4" fill="#3bb44a" stroke="#fff" stroke-width="1"/>
<circle cx="2073.0" cy="686.1" r="6.4" fill="#3bb44a" stroke="#fff" stroke-width="1"/>
<circle cx="2083.4" cy="679.3" r="6.4" fill="#3bb44a" stroke="#fff" stroke-width="1"/>
<circle cx="2093.8" cy="658.4" r="6.4" fill="#3bb44a" stroke="#fff" stroke-width="1"/>
<circle cx="1782.6" cy="937.6" r="6.4" fill="#87888b" stroke="#fff" stroke-width="1"/>
<circle cx="1793.0" cy="937.6" r="6.4" fill="#87888b" stroke="#fff" stroke-width="1"/>
<circle cx="1803.3" cy="937.6" r="6.4" fill="#87888b" stroke="#fff" stroke-width="1"/>
<circle cx="1813.7" cy="937.6" r="6.4" fill="#87888b" stroke="#fff" stroke-width="1"/>
<circle cx="1824.1" cy="937.6" r="6.4" fill="#87888b" stroke="#fff" stroke-width="1"/>
<circle cx="1834.5" cy="937.6" r="6.4" fill="#87888b" stroke="#fff" stroke-width="1"/>
<circle cx="1844.8" cy="937.6" r="6.4" fill="#87888b" stroke="#fff" stroke-width="1"/>
<circle cx="1855.2" cy="937.6" r="6.4" fill="#87888b" stroke="#fff" stroke-width="1"/>
<circle cx="1865.6" cy="937.6" r="6.4" fill="#87888b" stroke="#fff" stroke-width="1"/>
<circle cx="1875.9" cy="924.1" r="6.4" fill="#87888b" stroke="#fff" stroke-width="1"/>
<circle cx="1886.3" cy="915.5" r="6.4" fill="#87888b" stroke="#fff" stroke-width="1"/>
<circle cx="1896.7" cy="896.4" r="6.4" fill="#87888b" stroke="#fff" stroke-width="1"/>
<circle cx="1907.1" cy="875.5" r="6.4" fill="#87888b" stroke="#fff" stroke-width="1"/>
<circle cx="1917.4" cy="861.2" r="6.4" fill="#87888b" stroke="#fff" stroke-width="1"/>
<circle cx="1927.8" cy="847.0" r="6.4" fill="#87888b" stroke="#fff" stroke-width="1"/>
<circle cx="1938.2" cy="829.1" r="6.4" fill="#87888b" stroke="#fff" stroke-width="1"/>
<circle cx="1948.6" cy="814.1" r="6.4" fill="#87888b" stroke="#fff" stroke-width="1"/>
<circle cx="1958.9" cy="793.5" r="6.4" fill="#87888b" stroke="#fff" stroke-width="1"/>
<circle cx="1969.3" cy="770.7" r="6.4" fill="#87888b" stroke="#fff" stroke-width="1"/>
<circle cx="1979.7" cy="763.2" r="6.4" fill="#87888b" stroke="#fff" stroke-width="1"/>
<circle cx="1990.0" cy="738.5" r="6.4" fill="#87888b" stroke="#fff" stroke-width="1"/>
<circle cx="2000.4" cy="726.9" r="6.4" fill="#87888b" stroke="#fff" stroke-width="1"/>
<circle cx="2010.8" cy="714.1" r="6.4" fill="#87888b" stroke="#fff" stroke-width="1"/>
<circle cx="2021.2" cy="694.3" r="6.4" fill="#87888b" stroke="#fff" stroke-width="1"/>
<circle cx="2031.5" cy="686.8" r="6.4" fill="#87888b" stroke="#fff" stroke-width="1"/>
<circle cx="2041.9" cy="672.6" r="6.4" fill="#87888b" stroke="#fff" stroke-width="1"/>
<circle cx="2052.3" cy="656.9" r="6.4" fill="#87888b" stroke="#fff" stroke-width="1"/>
<circle cx="2062.6" cy="648.6" r="6.4" fill="#87888b" stroke="#fff" stroke-width="1"/>
<circle cx="2073.0" cy="633.7" r="6.4" fill="#87888b" stroke="#fff" stroke-width="1"/>
<circle cx="2083.4" cy="619.8" r="6.4" fill="#87888b" stroke="#fff" stroke-width="1"/>
<circle cx="2093.8" cy="605.6" r="6.4" fill="#87888b" stroke="#fff" stroke-width="1"/>
<circle cx="1782.6" cy="937.6" r="6.4" fill="#555759" stroke="#fff" stroke-width="1"/>
<circle cx="1793.0" cy="937.6" r="6.4" fill="#555759" stroke="#fff" stroke-width="1"/>
<circle cx="1803.3" cy="937.6" r="6.4" fill="#555759" stroke="#fff" stroke-width="1"/>
<circle cx="1813.7" cy="937.6" r="6.4" fill="#555759" stroke="#fff" stroke-width="1"/>
<circle cx="1824.1" cy="937.6" r="6.4" fill="#555759" stroke="#fff" stroke-width="1"/>
<circle cx="1834.5" cy="937.6" r="6.4" fill="#555759" stroke="#fff" stroke-width="1"/>
<circle cx="1844.8" cy="937.6" r="6.4" fill="#555759" stroke="#fff" stroke-width="1"/>
<circle cx="1855.2" cy="937.6" r="6.4" fill="#555759" stroke="#fff" stroke-width="1"/>
<circle cx="1865.6" cy="937.6" r="6.4" fill="#555759" stroke="#fff" stroke-width="1"/>
<circle cx="1875.9" cy="937.6" r="6.4" fill="#555759" stroke="#fff" stroke-width="1"/>
<circle cx="1886.3" cy="933.9" r="6.4" fill="#555759" stroke="#fff" stroke-width="1"/>
<circle cx="1896.7" cy="926.4" r="6.4" fill="#555759" stroke="#fff" stroke-width="1"/>
<circle cx="1907.1" cy="915.9" r="6.4" fill="#555759" stroke="#fff" stroke-width="1"/>
<circle cx="1917.4" cy="907.7" r="6.4" fill="#555759" stroke="#fff" stroke-width="1"/>
<circle cx="1927.8" cy="894.6" r="6.4" fill="#555759" stroke="#fff" stroke-width="1"/>
<circle cx="1938.2" cy="885.2" r="6.4" fill="#555759" stroke="#fff" stroke-width="1"/>
<circle cx="1948.6" cy="864.6" r="6.4" fill="#555759" stroke="#fff" stroke-width="1"/>
<circle cx="1958.9" cy="857.1" r="6.4" fill="#555759" stroke="#fff" stroke-width="1"/>
<circle cx="1969.3" cy="844.0" r="6.4" fill="#555759" stroke="#fff" stroke-width="1"/>
<circle cx="1979.7" cy="825.3" r="6.4" fill="#555759" stroke="#fff" stroke-width="1"/>
<circle cx="1990.0" cy="814.5" r="6.4" fill="#555759" stroke="#fff" stroke-width="1"/>
<circle cx="2000.4" cy="792.7" r="6.4" fill="#555759" stroke="#fff" stroke-width="1"/>
<circle cx="2010.8" cy="781.5" r="6.4" fill="#555759" stroke="#fff" stroke-width="1"/>
<circle cx="2021.2" cy="759.4" r="6.4" fill="#555759" stroke="#fff" stroke-width="1"/>
<circle cx="2031.5" cy="748.6" r="6.4" fill="#555759" stroke="#fff" stroke-width="1"/>
<circle cx="2041.9" cy="737.0" r="6.4" fill="#555759" stroke="#fff" stroke-width="1"/>
<circle cx="2052.3" cy="726.5" r="6.4" fill="#555759" stroke="#fff" stroke-width="1"/>
<circle cx="2062.6" cy="709.3" r="6.4" fill="#555759" stroke="#fff" stroke-width="1"/>
<circle cx="2073.0" cy="697.7" r="6.4" fill="#555759" stroke="#fff" stroke-width="1"/>
<circle cx="2083.4" cy="689.8" r="6.4" fill="#555759" stroke="#fff" stroke-width="1"/>
<circle cx="2093.8" cy="667.4" r="6.4" fill="#555759" stroke="#fff" stroke-width="1"/>
<circle cx="1782.6" cy="937.6" r="6.4" fill="#8b2a9d" stroke="#fff" stroke-width="1"/>
<circle cx="1793.0" cy="937.6" r="6.4" fill="#8b2a9d" stroke="#fff" stroke-width="1"/>
<circle cx="1803.3" cy="937.6" r="6.4" fill="#8b2a9d" stroke="#fff" stroke-width="1"/>
<circle cx="1813.7" cy="937.6" r="6.4" fill="#8b2a9d" stroke="#fff" stroke-width="1"/>
<circle cx="1824.1" cy="937.6" r="6.4" fill="#8b2a9d" stroke="#fff" stroke-width="1"/>
<circle cx="1834.5" cy="937.6" r="6.4" fill="#8b2a9d" stroke="#fff" stroke-width="1"/>
<circle cx="1844.8" cy="937.6" r="6.4" fill="#8b2a9d" stroke="#fff" stroke-width="1"/>
<circle cx="1855.2" cy="937.6" r="6.4" fill="#8b2a9d" stroke="#fff" stroke-width="1"/>
<circle cx="1865.6" cy="937.6" r="6.4" fill="#8b2a9d" stroke="#fff" stroke-width="1"/>
<circle cx="1875.9" cy="935.7" r="6.4" fill="#8b2a9d" stroke="#fff" stroke-width="1"/>
<circle cx="1886.3" cy="932.0" r="6.4" fill="#8b2a9d" stroke="#fff" stroke-width="1"/>
<circle cx="1896.7" cy="919.6" r="6.4" fill="#8b2a9d" stroke="#fff" stroke-width="1"/>
<circle cx="1907.1" cy="907.3" r="6.4" fill="#8b2a9d" stroke="#fff" stroke-width="1"/>
<circle cx="1917.4" cy="900.2" r="6.4" fill="#8b2a9d" stroke="#fff" stroke-width="1"/>
<circle cx="1927.8" cy="884.8" r="6.4" fill="#8b2a9d" stroke="#fff" stroke-width="1"/>
<circle cx="1938.2" cy="879.6" r="6.4" fill="#8b2a9d" stroke="#fff" stroke-width="1"/>
<circle cx="1948.6" cy="850.4" r="6.4" fill="#8b2a9d" stroke="#fff" stroke-width="1"/>
<circle cx="1958.9" cy="837.7" r="6.4" fill="#8b2a9d" stroke="#fff" stroke-width="1"/>
<circle cx="1969.3" cy="822.3" r="6.4" fill="#8b2a9d" stroke="#fff" stroke-width="1"/>
<circle cx="1979.7" cy="800.2" r="6.4" fill="#8b2a9d" stroke="#fff" stroke-width="1"/>
<circle cx="1990.0" cy="787.9" r="6.4" fill="#8b2a9d" stroke="#fff" stroke-width="1"/>
<circle cx="2000.4" cy="766.5" r="6.4" fill="#8b2a9d" stroke="#fff" stroke-width="1"/>
<circle cx="2010.8" cy="756.8" r="6.4" fill="#8b2a9d" stroke="#fff" stroke-width="1"/>
<circle cx="2021.2" cy="735.5" r="6.4" fill="#8b2a9d" stroke="#fff" stroke-width="1"/>
<circle cx="2031.5" cy="725.7" r="6.4" fill="#8b2a9d" stroke="#fff" stroke-width="1"/>
<circle cx="2041.9" cy="710.4" r="6.4" fill="#8b2a9d" stroke="#fff" stroke-width="1"/>
<circle cx="2052.3" cy="704.0" r="6.4" fill="#8b2a9d" stroke="#fff" stroke-width="1"/>
<circle cx="2062.6" cy="688.7" r="6.4" fill="#8b2a9d" stroke="#fff" stroke-width="1"/>
<circle cx="2073.0" cy="673.3" r="6.4" fill="#8b2a9d" stroke="#fff" stroke-width="1"/>
<circle cx="2083.4" cy="660.6" r="6.4" fill="#8b2a9d" stroke="#fff" stroke-width="1"/>
<circle cx="2093.8" cy="641.9" r="6.4" fill="#8b2a9d" stroke="#fff" stroke-width="1"/>
<circle cx="1782.6" cy="937.6" r="6.4" fill="#ea2b9c" stroke="#fff" stroke-width="1"/>
<circle cx="1793.0" cy="937.6" r="6.4" fill="#ea2b9c" stroke="#fff" stroke-width="1"/>
<circle cx="1803.3" cy="937.6" r="6.4" fill="#ea2b9c" stroke="#fff" stroke-width="1"/>
<circle cx="1813.7" cy="937.6" r="6.4" fill="#ea2b9c" stroke="#fff" stroke-width="1"/>
<circle cx="1824.1" cy="937.6" r="6.4" fill="#ea2b9c" stroke="#fff" stroke-width="1"/>
<circle cx="1834.5" cy="935.4" r="6.4" fill="#ea2b9c" stroke="#fff" stroke-width="1"/>
<circle cx="1844.8" cy="930.9" r="6.4" fill="#ea2b9c" stroke="#fff" stroke-width="1"/>
<circle cx="1855.2" cy="930.1" r="6.4" fill="#ea2b9c" stroke="#fff" stroke-width="1"/>
<circle cx="1865.6" cy="929.0" r="6.4" fill="#ea2b9c" stroke="#fff" stroke-width="1"/>
<circle cx="1875.9" cy="914.4" r="6.4" fill="#ea2b9c" stroke="#fff" stroke-width="1"/>
<circle cx="1886.3" cy="905.4" r="6.4" fill="#ea2b9c" stroke="#fff" stroke-width="1"/>
<circle cx="1896.7" cy="898.7" r="6.4" fill="#ea2b9c" stroke="#fff" stroke-width="1"/>
<circle cx="1907.1" cy="885.9" r="6.4" fill="#ea2b9c" stroke="#fff" stroke-width="1"/>
<circle cx="1917.4" cy="869.9" r="6.4" fill="#ea2b9c" stroke="#fff" stroke-width="1"/>
<circle cx="1927.8" cy="856.4" r="6.4" fill="#ea2b9c" stroke="#fff" stroke-width="1"/>
<circle cx="1938.2" cy="837.7" r="6.4" fill="#ea2b9c" stroke="#fff" stroke-width="1"/>
<circle cx="1948.6" cy="823.1" r="6.4" fill="#ea2b9c" stroke="#fff" stroke-width="1"/>
<circle cx="1958.9" cy="803.6" r="6.4" fill="#ea2b9c" stroke="#fff" stroke-width="1"/>
<circle cx="1969.3" cy="787.9" r="6.4" fill="#ea2b9c" stroke="#fff" stroke-width="1"/>
<circle cx="1979.7" cy="774.0" r="6.4" fill="#ea2b9c" stroke="#fff" stroke-width="1"/>
<circle cx="1990.0" cy="753.1" r="6.4" fill="#ea2b9c" stroke="#fff" stroke-width="1"/>
<circle cx="2000.4" cy="740.7" r="6.4" fill="#ea2b9c" stroke="#fff" stroke-width="1"/>
<circle cx="2010.8" cy="724.2" r="6.4" fill="#ea2b9c" stroke="#fff" stroke-width="1"/>
<circle cx="2021.2" cy="716.0" r="6.4" fill="#ea2b9c" stroke="#fff" stroke-width="1"/>
<circle cx="2031.5" cy="699.2" r="6.4" fill="#ea2b9c" stroke="#fff" stroke-width="1"/>
<circle cx="2041.9" cy="687.6" r="6.4" fill="#ea2b9c" stroke="#fff" stroke-width="1"/>
<circle cx="2052.3" cy="671.8" r="6.4" fill="#ea2b9c" stroke="#fff" stroke-width="1"/>
<circle cx="2062.6" cy="657.6" r="6.4" fill="#ea2b9c" stroke="#fff" stroke-width="1"/>
<circle cx="2073.0" cy="645.3" r="6.4" fill="#ea2b9c" stroke="#fff" stroke-width="1"/>
<circle cx="2083.4" cy="637.0" r="6.4" fill="#ea2b9c" stroke="#fff" stroke-width="1"/>
<circle cx="2093.8" cy="619.8" r="6.4" fill="#ea2b9c" stroke="#fff" stroke-width="1"/>
<line x1="1875.9" y1="918.6" x2="1875.9" y2="929.6" stroke="#616164" stroke-width="2.2"/>
<line x1="1886.3" y1="908.8" x2="1886.3" y2="922.2" stroke="#616164" stroke-width="2.2"/>
<line x1="1896.7" y1="887.8" x2="1896.7" y2="905.0" stroke="#616164" stroke-width="2.2"/>
<line x1="1907.1" y1="865.3" x2="1907.1" y2="885.6" stroke="#616164" stroke-width="2.2"/>
<line x1="1917.4" y1="850.2" x2="1917.4" y2="872.2" stroke="#616164" stroke-width="2.2"/>
<line x1="1927.8" y1="835.2" x2="1927.8" y2="858.8" stroke="#616164" stroke-width="2.2"/>
<line x1="1938.2" y1="816.4" x2="1938.2" y2="841.7" stroke="#616164" stroke-width="2.2"/>
<line x1="1948.6" y1="800.8" x2="1948.6" y2="827.4" stroke="#616164" stroke-width="2.2"/>
<line x1="1958.9" y1="779.3" x2="1958.9" y2="807.7" stroke="#616164" stroke-width="2.2"/>
<line x1="1969.3" y1="755.6" x2="1969.3" y2="785.7" stroke="#616164" stroke-width="2.2"/>
<line x1="1979.7" y1="747.9" x2="1979.7" y2="778.5" stroke="#616164" stroke-width="2.2"/>
<line x1="1990.0" y1="722.3" x2="1990.0" y2="754.6" stroke="#616164" stroke-width="2.2"/>
<line x1="2000.4" y1="710.4" x2="2000.4" y2="743.4" stroke="#616164" stroke-width="2.2"/>
<line x1="2010.8" y1="697.2" x2="2010.8" y2="731.0" stroke="#616164" stroke-width="2.2"/>
<line x1="2021.2" y1="676.8" x2="2021.2" y2="711.8" stroke="#616164" stroke-width="2.2"/>
<line x1="2031.5" y1="669.1" x2="2031.5" y2="704.5" stroke="#616164" stroke-width="2.2"/>
<line x1="2041.9" y1="654.5" x2="2041.9" y2="690.7" stroke="#616164" stroke-width="2.2"/>
<line x1="2052.3" y1="638.4" x2="2052.3" y2="675.4" stroke="#616164" stroke-width="2.2"/>
<line x1="2062.6" y1="629.9" x2="2062.6" y2="667.4" stroke="#616164" stroke-width="2.2"/>
<line x1="2073.0" y1="614.6" x2="2073.0" y2="652.8" stroke="#616164" stroke-width="2.2"/>
<line x1="2083.4" y1="600.4" x2="2083.4" y2="639.3" stroke="#616164" stroke-width="2.2"/>
<line x1="2093.8" y1="585.8" x2="2093.8" y2="625.4" stroke="#616164" stroke-width="2.2"/>
<line x1="1844.8" y1="919.9" x2="1844.8" y2="925.4" stroke="#b81d2b" stroke-width="2.2"/>
<line x1="1855.2" y1="917.9" x2="1855.2" y2="923.6" stroke="#b81d2b" stroke-width="2.2"/>
<line x1="1865.6" y1="919.5" x2="1865.6" y2="925.0" stroke="#b81d2b" stroke-width="2.2"/>
<line x1="1875.9" y1="911.9" x2="1875.9" y2="918.4" stroke="#b81d2b" stroke-width="2.2"/>
<line x1="1886.3" y1="900.1" x2="1886.3" y2="907.7" stroke="#b81d2b" stroke-width="2.2"/>
<line x1="1896.7" y1="890.4" x2="1896.7" y2="898.8" stroke="#b81d2b" stroke-width="2.2"/>
<line x1="1907.1" y1="874.8" x2="1907.1" y2="884.3" stroke="#b81d2b" stroke-width="2.2"/>
<line x1="1917.4" y1="858.3" x2="1917.4" y2="868.7" stroke="#b81d2b" stroke-width="2.2"/>
<line x1="1927.8" y1="836.0" x2="1927.8" y2="847.6" stroke="#b81d2b" stroke-width="2.2"/>
<line x1="1938.2" y1="822.2" x2="1938.2" y2="834.4" stroke="#b81d2b" stroke-width="2.2"/>
<line x1="1948.6" y1="805.8" x2="1948.6" y2="818.7" stroke="#b81d2b" stroke-width="2.2"/>
<line x1="1958.9" y1="783.6" x2="1958.9" y2="797.4" stroke="#b81d2b" stroke-width="2.2"/>
<line x1="1969.3" y1="772.2" x2="1969.3" y2="786.3" stroke="#b81d2b" stroke-width="2.2"/>
<line x1="1979.7" y1="750.9" x2="1979.7" y2="765.7" stroke="#b81d2b" stroke-width="2.2"/>
<line x1="1990.0" y1="738.3" x2="1990.0" y2="753.6" stroke="#b81d2b" stroke-width="2.2"/>
<line x1="2000.4" y1="725.8" x2="2000.4" y2="741.4" stroke="#b81d2b" stroke-width="2.2"/>
<line x1="2010.8" y1="701.5" x2="2010.8" y2="717.8" stroke="#b81d2b" stroke-width="2.2"/>
<line x1="2021.2" y1="699.9" x2="2021.2" y2="716.4" stroke="#b81d2b" stroke-width="2.2"/>
<line x1="2031.5" y1="684.0" x2="2031.5" y2="700.9" stroke="#b81d2b" stroke-width="2.2"/>
<line x1="2041.9" y1="672.6" x2="2041.9" y2="689.8" stroke="#b81d2b" stroke-width="2.2"/>
<line x1="2052.3" y1="654.4" x2="2052.3" y2="672.1" stroke="#b81d2b" stroke-width="2.2"/>
<line x1="2062.6" y1="642.3" x2="2062.6" y2="660.2" stroke="#b81d2b" stroke-width="2.2"/>
<line x1="2073.0" y1="630.9" x2="2073.0" y2="649.1" stroke="#b81d2b" stroke-width="2.2"/>
<line x1="2083.4" y1="619.2" x2="2083.4" y2="637.7" stroke="#b81d2b" stroke-width="2.2"/>
<line x1="2093.8" y1="617.3" x2="2093.8" y2="635.8" stroke="#b81d2b" stroke-width="2.2"/>
<line x1="1896.7" y1="921.0" x2="1896.7" y2="931.8" stroke="#444547" stroke-width="2.2"/>
<line x1="1907.1" y1="908.9" x2="1907.1" y2="922.9" stroke="#444547" stroke-width="2.2"/>
<line x1="1917.4" y1="899.7" x2="1917.4" y2="915.7" stroke="#444547" stroke-width="2.2"/>
<line x1="1927.8" y1="885.3" x2="1927.8" y2="903.8" stroke="#444547" stroke-width="2.2"/>
<line x1="1938.2" y1="875.2" x2="1938.2" y2="895.2" stroke="#444547" stroke-width="2.2"/>
<line x1="1948.6" y1="853.2" x2="1948.6" y2="876.0" stroke="#444547" stroke-width="2.2"/>
<line x1="1958.9" y1="845.2" x2="1958.9" y2="869.0" stroke="#444547" stroke-width="2.2"/>
<line x1="1969.3" y1="831.4" x2="1969.3" y2="856.6" stroke="#444547" stroke-width="2.2"/>
<line x1="1979.7" y1="811.7" x2="1979.7" y2="838.9" stroke="#444547" stroke-width="2.2"/>
<line x1="1990.0" y1="800.4" x2="1990.0" y2="828.5" stroke="#444547" stroke-width="2.2"/>
<line x1="2000.4" y1="777.7" x2="2000.4" y2="807.8" stroke="#444547" stroke-width="2.2"/>
<line x1="2010.8" y1="766.0" x2="2010.8" y2="797.0" stroke="#444547" stroke-width="2.2"/>
<line x1="2021.2" y1="743.1" x2="2021.2" y2="775.8" stroke="#444547" stroke-width="2.2"/>
<line x1="2031.5" y1="731.9" x2="2031.5" y2="765.3" stroke="#444547" stroke-width="2.2"/>
<line x1="2041.9" y1="719.9" x2="2041.9" y2="754.1" stroke="#444547" stroke-width="2.2"/>
<line x1="2052.3" y1="709.0" x2="2052.3" y2="744.0" stroke="#444547" stroke-width="2.2"/>
<line x1="2062.6" y1="691.2" x2="2062.6" y2="727.3" stroke="#444547" stroke-width="2.2"/>
<line x1="2073.0" y1="679.3" x2="2073.0" y2="716.1" stroke="#444547" stroke-width="2.2"/>
<line x1="2083.4" y1="671.2" x2="2083.4" y2="708.4" stroke="#444547" stroke-width="2.2"/>
<line x1="2093.8" y1="648.1" x2="2093.8" y2="686.6" stroke="#444547" stroke-width="2.2"/>
<line x1="1896.7" y1="923.5" x2="1896.7" y2="934.5" stroke="#38ab46" stroke-width="2.2"/>
<line x1="1907.1" y1="915.8" x2="1907.1" y2="929.5" stroke="#38ab46" stroke-width="2.2"/>
<line x1="1917.4" y1="911.0" x2="1917.4" y2="926.0" stroke="#38ab46" stroke-width="2.2"/>
<line x1="1927.8" y1="893.6" x2="1927.8" y2="912.7" stroke="#38ab46" stroke-width="2.2"/>
<line x1="1938.2" y1="869.9" x2="1938.2" y2="893.1" stroke="#38ab46" stroke-width="2.2"/>
<line x1="1948.6" y1="853.7" x2="1948.6" y2="879.2" stroke="#38ab46" stroke-width="2.2"/>
<line x1="1958.9" y1="831.8" x2="1958.9" y2="860.0" stroke="#38ab46" stroke-width="2.2"/>
<line x1="1969.3" y1="819.1" x2="1969.3" y2="848.7" stroke="#38ab46" stroke-width="2.2"/>
<line x1="1979.7" y1="797.8" x2="1979.7" y2="829.6" stroke="#38ab46" stroke-width="2.2"/>
<line x1="1990.0" y1="789.5" x2="1990.0" y2="822.2" stroke="#38ab46" stroke-width="2.2"/>
<line x1="2000.4" y1="765.6" x2="2000.4" y2="800.4" stroke="#38ab46" stroke-width="2.2"/>
<line x1="2010.8" y1="752.3" x2="2010.8" y2="788.2" stroke="#38ab46" stroke-width="2.2"/>
<line x1="2021.2" y1="731.3" x2="2021.2" y2="768.9" stroke="#38ab46" stroke-width="2.2"/>
<line x1="2031.5" y1="722.3" x2="2031.5" y2="760.6" stroke="#38ab46" stroke-width="2.2"/>
<line x1="2041.9" y1="702.1" x2="2041.9" y2="741.9" stroke="#38ab46" stroke-width="2.2"/>
<line x1="2052.3" y1="694.0" x2="2052.3" y2="734.3" stroke="#38ab46" stroke-width="2.2"/>
<line x1="2062.6" y1="679.3" x2="2062.6" y2="720.6" stroke="#38ab46" stroke-width="2.2"/>
<line x1="2073.0" y1="664.9" x2="2073.0" y2="707.2" stroke="#38ab46" stroke-width="2.2"/>
<line x1="2083.4" y1="658.0" x2="2083.4" y2="700.7" stroke="#38ab46" stroke-width="2.2"/>
<line x1="2093.8" y1="636.3" x2="2093.8" y2="680.4" stroke="#38ab46" stroke-width="2.2"/>
<line x1="1886.3" y1="928.3" x2="1886.3" y2="935.7" stroke="#842795" stroke-width="2.2"/>
<line x1="1896.7" y1="913.7" x2="1896.7" y2="925.6" stroke="#842795" stroke-width="2.2"/>
<line x1="1907.1" y1="900.0" x2="1907.1" y2="914.6" stroke="#842795" stroke-width="2.2"/>
<line x1="1917.4" y1="892.2" x2="1917.4" y2="908.1" stroke="#842795" stroke-width="2.2"/>
<line x1="1927.8" y1="875.7" x2="1927.8" y2="893.9" stroke="#842795" stroke-width="2.2"/>
<line x1="1938.2" y1="870.1" x2="1938.2" y2="889.1" stroke="#842795" stroke-width="2.2"/>
<line x1="1948.6" y1="839.2" x2="1948.6" y2="861.5" stroke="#842795" stroke-width="2.2"/>
<line x1="1958.9" y1="825.9" x2="1958.9" y2="849.4" stroke="#842795" stroke-width="2.2"/>
<line x1="1969.3" y1="809.8" x2="1969.3" y2="834.8" stroke="#842795" stroke-width="2.2"/>
<line x1="1979.7" y1="786.9" x2="1979.7" y2="813.6" stroke="#842795" stroke-width="2.2"/>
<line x1="1990.0" y1="774.0" x2="1990.0" y2="801.7" stroke="#842795" stroke-width="2.2"/>
<line x1="2000.4" y1="751.9" x2="2000.4" y2="781.1" stroke="#842795" stroke-width="2.2"/>
<line x1="2010.8" y1="741.9" x2="2010.8" y2="771.7" stroke="#842795" stroke-width="2.2"/>
<line x1="2021.2" y1="719.9" x2="2021.2" y2="751.1" stroke="#842795" stroke-width="2.2"/>
<line x1="2031.5" y1="709.8" x2="2031.5" y2="741.7" stroke="#842795" stroke-width="2.2"/>
<line x1="2041.9" y1="694.0" x2="2041.9" y2="726.8" stroke="#842795" stroke-width="2.2"/>
<line x1="2052.3" y1="687.5" x2="2052.3" y2="720.6" stroke="#842795" stroke-width="2.2"/>
<line x1="2062.6" y1="671.7" x2="2062.6" y2="705.7" stroke="#842795" stroke-width="2.2"/>
<line x1="2073.0" y1="656.0" x2="2073.0" y2="690.7" stroke="#842795" stroke-width="2.2"/>
<line x1="2083.4" y1="642.9" x2="2083.4" y2="678.3" stroke="#842795" stroke-width="2.2"/>
<line x1="2093.8" y1="623.7" x2="2093.8" y2="660.1" stroke="#842795" stroke-width="2.2"/>
<line x1="1844.8" y1="926.2" x2="1844.8" y2="935.5" stroke="#de2894" stroke-width="2.2"/>
<line x1="1855.2" y1="925.3" x2="1855.2" y2="935.0" stroke="#de2894" stroke-width="2.2"/>
<line x1="1865.6" y1="923.9" x2="1865.6" y2="934.1" stroke="#de2894" stroke-width="2.2"/>
<line x1="1875.9" y1="906.8" x2="1875.9" y2="922.0" stroke="#de2894" stroke-width="2.2"/>
<line x1="1886.3" y1="896.7" x2="1886.3" y2="914.1" stroke="#de2894" stroke-width="2.2"/>
<line x1="1896.7" y1="889.3" x2="1896.7" y2="908.0" stroke="#de2894" stroke-width="2.2"/>
<line x1="1907.1" y1="875.5" x2="1907.1" y2="896.4" stroke="#de2894" stroke-width="2.2"/>
<line x1="1917.4" y1="858.2" x2="1917.4" y2="881.5" stroke="#de2894" stroke-width="2.2"/>
<line x1="1927.8" y1="843.8" x2="1927.8" y2="869.0" stroke="#de2894" stroke-width="2.2"/>
<line x1="1938.2" y1="824.0" x2="1938.2" y2="851.3" stroke="#de2894" stroke-width="2.2"/>
<line x1="1948.6" y1="808.6" x2="1948.6" y2="837.5" stroke="#de2894" stroke-width="2.2"/>
<line x1="1958.9" y1="788.2" x2="1958.9" y2="819.0" stroke="#de2894" stroke-width="2.2"/>
<line x1="1969.3" y1="771.8" x2="1969.3" y2="803.9" stroke="#de2894" stroke-width="2.2"/>
<line x1="1979.7" y1="757.4" x2="1979.7" y2="790.7" stroke="#de2894" stroke-width="2.2"/>
<line x1="1990.0" y1="735.6" x2="1990.0" y2="770.5" stroke="#de2894" stroke-width="2.2"/>
<line x1="2000.4" y1="722.8" x2="2000.4" y2="758.6" stroke="#de2894" stroke-width="2.2"/>
<line x1="2010.8" y1="705.7" x2="2010.8" y2="742.8" stroke="#de2894" stroke-width="2.2"/>
<line x1="2021.2" y1="697.2" x2="2021.2" y2="734.8" stroke="#de2894" stroke-width="2.2"/>
<line x1="2031.5" y1="679.8" x2="2031.5" y2="718.5" stroke="#de2894" stroke-width="2.2"/>
<line x1="2041.9" y1="667.9" x2="2041.9" y2="707.3" stroke="#de2894" stroke-width="2.2"/>
<line x1="2052.3" y1="651.6" x2="2052.3" y2="692.0" stroke="#de2894" stroke-width="2.2"/>
<line x1="2062.6" y1="637.0" x2="2062.6" y2="678.3" stroke="#de2894" stroke-width="2.2"/>
<line x1="2073.0" y1="624.3" x2="2073.0" y2="666.3" stroke="#de2894" stroke-width="2.2"/>
<line x1="2083.4" y1="615.8" x2="2083.4" y2="658.3" stroke="#de2894" stroke-width="2.2"/>
<line x1="2093.8" y1="598.1" x2="2093.8" y2="641.5" stroke="#de2894" stroke-width="2.2"/>
</svg>
</body></html>
